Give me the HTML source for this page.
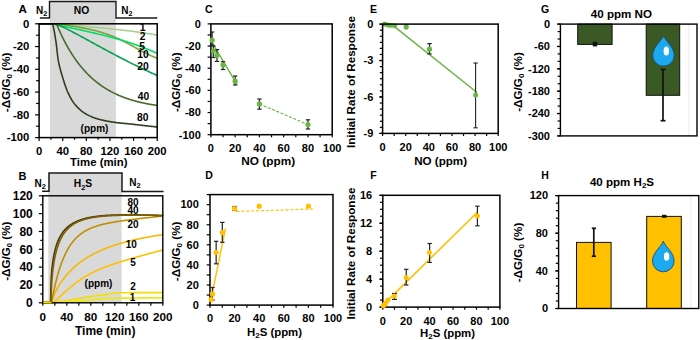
<!DOCTYPE html><html><head><meta charset="utf-8"><style>html,body{margin:0;padding:0;background:#fff;}svg{display:block;}text{font-family:"Liberation Sans",sans-serif;font-weight:bold;}</style></head><body>
<svg width="700" height="340" viewBox="0 0 700 340">
<rect width="700" height="340" fill="#fff"/>
<rect x="50.0" y="1.5" width="65.90" height="136.10" fill="#d9d9d9"/>
<path d="M39.9,18.0 H49.5 V1.5 H116.0 V18.0 H157.3" stroke="#1a1a1a" stroke-width="1.4" fill="none" stroke-linecap="butt" stroke-linejoin="miter"/>
<text x="22.75" y="13.10" font-size="11.6" text-anchor="middle" fill="#000" >A</text>
<text x="36" y="13.5" font-size="10" fill="#000">N<tspan font-size="7.2" dy="2.4">2</tspan></text>
<text x="81.50" y="13.70" font-size="10.3" text-anchor="middle" fill="#000" >NO</text>
<text x="121.2" y="13.7" font-size="10" fill="#000">N<tspan font-size="7.2" dy="2.4">2</tspan></text>
<path d="M39.50,23.90 L55.87,23.90 L55.87,23.90 L56.37,23.94 L56.87,23.99 L57.37,24.03 L57.87,24.07 L58.37,24.12 L58.87,24.16 L59.37,24.20 L59.87,24.24 L60.37,24.29 L60.87,24.33 L61.37,24.37 L61.87,24.42 L62.37,24.46 L62.87,24.50 L63.37,24.55 L63.87,24.59 L64.37,24.63 L64.87,24.68 L65.37,24.72 L65.87,24.76 L66.37,24.80 L66.87,24.85 L67.37,24.89 L67.87,24.93 L68.37,24.98 L68.87,25.02 L69.37,25.06 L69.87,25.11 L70.37,25.15 L70.87,25.19 L71.37,25.24 L71.87,25.28 L72.37,25.32 L72.87,25.37 L73.37,25.41 L73.87,25.45 L74.37,25.50 L74.87,25.54 L75.37,25.58 L75.87,25.63 L76.37,25.67 L76.87,25.71 L77.37,25.76 L77.87,25.80 L78.37,25.84 L78.87,25.89 L79.37,25.93 L79.87,25.98 L80.37,26.02 L80.87,26.06 L81.37,26.11 L81.87,26.15 L82.37,26.20 L82.87,26.24 L83.37,26.28 L83.87,26.33 L84.37,26.37 L84.87,26.42 L85.37,26.46 L85.87,26.50 L86.37,26.55 L86.87,26.59 L87.37,26.64 L87.87,26.68 L88.37,26.73 L88.87,26.77 L89.37,26.82 L89.87,26.86 L90.37,26.91 L90.87,26.95 L91.37,27.00 L91.87,27.04 L92.37,27.09 L92.87,27.13 L93.37,27.18 L93.87,27.22 L94.37,27.27 L94.87,27.32 L95.37,27.36 L95.87,27.41 L96.37,27.45 L96.87,27.50 L97.37,27.55 L97.87,27.59 L98.37,27.64 L98.87,27.69 L99.37,27.73 L99.87,27.78 L100.37,27.83 L100.87,27.88 L101.37,27.92 L101.87,27.97 L102.37,28.02 L102.87,28.07 L103.37,28.12 L103.87,28.16 L104.37,28.21 L104.87,28.26 L105.37,28.31 L105.87,28.36 L106.37,28.41 L106.87,28.46 L107.37,28.51 L107.87,28.56 L108.37,28.61 L108.87,28.66 L109.37,28.71 L109.87,28.76 L110.37,28.81 L110.87,28.86 L111.37,28.91 L111.87,28.96 L112.37,29.01 L112.87,29.07 L113.37,29.12 L113.87,29.17 L114.37,29.22 L114.87,29.28 L115.37,29.33 L115.87,29.38 L116.37,29.44 L116.87,29.49 L117.37,29.55 L117.87,29.60 L118.37,29.65 L118.87,29.71 L119.37,29.76 L119.87,29.82 L120.37,29.88 L120.87,29.93 L121.37,29.99 L121.87,30.05 L122.37,30.10 L122.87,30.16 L123.37,30.22 L123.87,30.28 L124.37,30.34 L124.87,30.39 L125.37,30.45 L125.87,30.51 L126.37,30.57 L126.87,30.63 L127.37,30.69 L127.87,30.75 L128.37,30.82 L128.87,30.88 L129.37,30.94 L129.87,31.00 L130.37,31.06 L130.87,31.13 L131.37,31.19 L131.87,31.26 L132.37,31.32 L132.87,31.39 L133.37,31.45 L133.87,31.52 L134.37,31.58 L134.87,31.65 L135.37,31.72 L135.87,31.78 L136.37,31.85 L136.87,31.92 L137.37,31.99 L137.87,32.06 L138.37,32.13 L138.87,32.20 L139.37,32.27 L139.87,32.34 L140.37,32.41 L140.87,32.49 L141.37,32.56 L141.87,32.63 L142.37,32.71 L142.87,32.78 L143.37,32.86 L143.87,32.93 L144.37,33.01 L144.87,33.09 L145.37,33.16 L145.87,33.24 L146.37,33.32 L146.87,33.40 L147.37,33.48 L147.87,33.56 L148.37,33.64 L148.87,33.72 L149.37,33.80 L149.87,33.89 L150.37,33.97 L150.87,34.05 L151.37,34.14 L151.87,34.22 L152.37,34.31 L152.87,34.40 L153.37,34.48 L153.87,34.57 L154.37,34.66 L154.87,34.75 L155.37,34.84 L155.87,34.93 L156.37,35.02 L156.87,35.11 L157.00,35.14" stroke="#a8d08c" stroke-width="1.6" fill="none" stroke-linejoin="round" stroke-linecap="round" />
<path d="M39.50,23.90 L59.00,23.90 L59.00,23.90 L59.50,23.98 L60.00,24.06 L60.50,24.15 L61.00,24.23 L61.50,24.31 L62.00,24.39 L62.50,24.47 L63.00,24.56 L63.50,24.64 L64.00,24.72 L64.50,24.80 L65.00,24.89 L65.50,24.97 L66.00,25.05 L66.50,25.13 L67.00,25.22 L67.50,25.30 L68.00,25.38 L68.50,25.46 L69.00,25.55 L69.50,25.63 L70.00,25.71 L70.50,25.80 L71.00,25.88 L71.50,25.96 L72.00,26.05 L72.50,26.13 L73.00,26.22 L73.50,26.30 L74.00,26.39 L74.50,26.47 L75.00,26.56 L75.50,26.64 L76.00,26.73 L76.50,26.82 L77.00,26.91 L77.50,26.99 L78.00,27.08 L78.50,27.17 L79.00,27.26 L79.50,27.35 L80.00,27.44 L80.50,27.53 L81.00,27.62 L81.50,27.72 L82.00,27.81 L82.50,27.90 L83.00,28.00 L83.50,28.09 L84.00,28.19 L84.50,28.29 L85.00,28.39 L85.50,28.48 L86.00,28.58 L86.50,28.69 L87.00,28.79 L87.50,28.89 L88.00,28.99 L88.50,29.10 L89.00,29.21 L89.50,29.31 L90.00,29.42 L90.50,29.53 L91.00,29.65 L91.50,29.76 L92.00,29.87 L92.50,29.99 L93.00,30.11 L93.50,30.23 L94.00,30.35 L94.50,30.47 L95.00,30.59 L95.50,30.72 L96.00,30.85 L96.50,30.97 L97.00,31.10 L97.50,31.24 L98.00,31.37 L98.50,31.51 L99.00,31.65 L99.50,31.79 L100.00,31.93 L100.50,32.07 L101.00,32.22 L101.50,32.37 L102.00,32.52 L102.50,32.67 L103.00,32.83 L103.50,32.98 L104.00,33.14 L104.50,33.31 L105.00,33.47 L105.50,33.64 L106.00,33.80 L106.50,33.98 L107.00,34.15 L107.50,34.33 L108.00,34.50 L108.50,34.68 L109.00,34.87 L109.50,35.05 L110.00,35.24 L110.50,35.43 L111.00,35.63 L111.50,35.82 L112.00,36.02 L112.50,36.22 L113.00,36.43 L113.50,36.63 L114.00,36.84 L114.50,37.05 L115.00,37.27 L115.50,37.48 L116.00,37.70 L116.50,37.92 L117.00,38.14 L117.50,38.37 L118.00,38.60 L118.50,38.83 L119.00,39.06 L119.50,39.30 L120.00,39.53 L120.50,39.77 L121.00,40.02 L121.50,40.26 L122.00,40.51 L122.50,40.75 L123.00,41.00 L123.50,41.26 L124.00,41.51 L124.50,41.77 L125.00,42.02 L125.50,42.28 L126.00,42.54 L126.50,42.81 L127.00,43.07 L127.50,43.33 L128.00,43.60 L128.50,43.87 L129.00,44.14 L129.50,44.41 L130.00,44.68 L130.50,44.95 L131.00,45.22 L131.50,45.50 L132.00,45.77 L132.50,46.04 L133.00,46.32 L133.50,46.59 L134.00,46.87 L134.50,47.15 L135.00,47.42 L135.50,47.70 L136.00,47.97 L136.50,48.25 L137.00,48.52 L137.50,48.80 L138.00,49.07 L138.50,49.34 L139.00,49.61 L139.50,49.89 L140.00,50.16 L140.50,50.43 L141.00,50.69 L141.50,50.96 L142.00,51.23 L142.50,51.49 L143.00,51.75 L143.50,52.01 L144.00,52.27 L144.50,52.53 L145.00,52.78 L145.50,53.04 L146.00,53.29 L146.50,53.53 L147.00,53.78 L147.50,54.03 L148.00,54.27 L148.50,54.51 L149.00,54.74 L149.50,54.98 L150.00,55.21 L150.50,55.44 L151.00,55.66 L151.50,55.89 L152.00,56.11 L152.50,56.33 L153.00,56.54 L153.50,56.75 L154.00,56.96 L154.50,57.17 L155.00,57.37 L155.50,57.57 L156.00,57.77 L156.50,57.96 L157.00,58.15" stroke="#7aa43c" stroke-width="1.6" fill="none" stroke-linejoin="round" stroke-linecap="round" />
<path d="M39.50,23.90 L52.56,23.90 L52.56,23.90 L53.06,24.01 L53.56,24.11 L54.06,24.22 L54.56,24.33 L55.06,24.44 L55.56,24.54 L56.06,24.65 L56.56,24.76 L57.06,24.87 L57.56,24.97 L58.06,25.08 L58.56,25.19 L59.06,25.30 L59.56,25.40 L60.06,25.51 L60.56,25.62 L61.06,25.73 L61.56,25.83 L62.06,25.94 L62.56,26.05 L63.06,26.16 L63.56,26.26 L64.06,26.37 L64.56,26.48 L65.06,26.59 L65.56,26.70 L66.06,26.80 L66.56,26.91 L67.06,27.02 L67.56,27.13 L68.06,27.23 L68.56,27.34 L69.06,27.45 L69.56,27.56 L70.06,27.67 L70.56,27.78 L71.06,27.88 L71.56,27.99 L72.06,28.10 L72.56,28.21 L73.06,28.32 L73.56,28.43 L74.06,28.53 L74.56,28.64 L75.06,28.75 L75.56,28.86 L76.06,28.97 L76.56,29.08 L77.06,29.19 L77.56,29.30 L78.06,29.41 L78.56,29.52 L79.06,29.63 L79.56,29.74 L80.06,29.85 L80.56,29.96 L81.06,30.07 L81.56,30.18 L82.06,30.29 L82.56,30.40 L83.06,30.51 L83.56,30.62 L84.06,30.73 L84.56,30.84 L85.06,30.96 L85.56,31.07 L86.06,31.18 L86.56,31.29 L87.06,31.41 L87.56,31.52 L88.06,31.63 L88.56,31.75 L89.06,31.86 L89.56,31.97 L90.06,32.09 L90.56,32.20 L91.06,32.32 L91.56,32.43 L92.06,32.55 L92.56,32.66 L93.06,32.78 L93.56,32.89 L94.06,33.01 L94.56,33.13 L95.06,33.24 L95.56,33.36 L96.06,33.48 L96.56,33.60 L97.06,33.72 L97.56,33.84 L98.06,33.96 L98.56,34.08 L99.06,34.20 L99.56,34.32 L100.06,34.44 L100.56,34.56 L101.06,34.68 L101.56,34.80 L102.06,34.93 L102.56,35.05 L103.06,35.17 L103.56,35.30 L104.06,35.42 L104.56,35.55 L105.06,35.67 L105.56,35.80 L106.06,35.93 L106.56,36.05 L107.06,36.18 L107.56,36.31 L108.06,36.44 L108.56,36.57 L109.06,36.70 L109.56,36.83 L110.06,36.96 L110.56,37.09 L111.06,37.22 L111.56,37.36 L112.06,37.49 L112.56,37.63 L113.06,37.76 L113.56,37.90 L114.06,38.03 L114.56,38.17 L115.06,38.31 L115.56,38.45 L116.06,38.59 L116.56,38.73 L117.06,38.87 L117.56,39.01 L118.06,39.15 L118.56,39.30 L119.06,39.44 L119.56,39.58 L120.06,39.73 L120.56,39.88 L121.06,40.02 L121.56,40.17 L122.06,40.32 L122.56,40.47 L123.06,40.62 L123.56,40.77 L124.06,40.92 L124.56,41.08 L125.06,41.23 L125.56,41.39 L126.06,41.54 L126.56,41.70 L127.06,41.86 L127.56,42.01 L128.06,42.17 L128.56,42.33 L129.06,42.50 L129.56,42.66 L130.06,42.82 L130.56,42.99 L131.06,43.15 L131.56,43.32 L132.06,43.49 L132.56,43.66 L133.06,43.82 L133.56,44.00 L134.06,44.17 L134.56,44.34 L135.06,44.51 L135.56,44.69 L136.06,44.86 L136.56,45.04 L137.06,45.22 L137.56,45.40 L138.06,45.58 L138.56,45.76 L139.06,45.94 L139.56,46.13 L140.06,46.31 L140.56,46.50 L141.06,46.69 L141.56,46.87 L142.06,47.06 L142.56,47.25 L143.06,47.45 L143.56,47.64 L144.06,47.83 L144.56,48.03 L145.06,48.23 L145.56,48.42 L146.06,48.62 L146.56,48.82 L147.06,49.02 L147.56,49.23 L148.06,49.43 L148.56,49.63 L149.06,49.84 L149.56,50.05 L150.06,50.26 L150.56,50.47 L151.06,50.68 L151.56,50.89 L152.06,51.10 L152.56,51.32 L153.06,51.53 L153.56,51.75 L154.06,51.97 L154.56,52.19 L155.06,52.41 L155.56,52.63 L156.06,52.85 L156.56,53.08 L157.00,53.28" stroke="#00dd66" stroke-width="1.6" fill="none" stroke-linejoin="round" stroke-linecap="round" />
<path d="M39.50,23.90 L54.54,23.90 L54.54,23.90 L55.04,23.98 L55.54,24.11 L56.04,24.27 L56.54,24.43 L57.04,24.61 L57.54,24.79 L58.04,24.99 L58.54,25.18 L59.04,25.39 L59.54,25.60 L60.04,25.81 L60.54,26.03 L61.04,26.25 L61.54,26.47 L62.04,26.70 L62.54,26.93 L63.04,27.16 L63.54,27.40 L64.04,27.64 L64.54,27.87 L65.04,28.12 L65.54,28.36 L66.04,28.61 L66.54,28.85 L67.04,29.10 L67.54,29.35 L68.04,29.60 L68.54,29.86 L69.04,30.11 L69.54,30.36 L70.04,30.62 L70.54,30.88 L71.04,31.14 L71.54,31.40 L72.04,31.66 L72.54,31.92 L73.04,32.18 L73.54,32.44 L74.04,32.71 L74.54,32.97 L75.04,33.24 L75.54,33.50 L76.04,33.77 L76.54,34.04 L77.04,34.30 L77.54,34.57 L78.04,34.84 L78.54,35.11 L79.04,35.38 L79.54,35.65 L80.04,35.92 L80.54,36.19 L81.04,36.46 L81.54,36.73 L82.04,37.00 L82.54,37.27 L83.04,37.55 L83.54,37.82 L84.04,38.09 L84.54,38.36 L85.04,38.64 L85.54,38.91 L86.04,39.18 L86.54,39.46 L87.04,39.73 L87.54,40.00 L88.04,40.28 L88.54,40.55 L89.04,40.82 L89.54,41.10 L90.04,41.37 L90.54,41.64 L91.04,41.92 L91.54,42.19 L92.04,42.47 L92.54,42.74 L93.04,43.01 L93.54,43.29 L94.04,43.56 L94.54,43.83 L95.04,44.11 L95.54,44.38 L96.04,44.65 L96.54,44.93 L97.04,45.20 L97.54,45.47 L98.04,45.74 L98.54,46.02 L99.04,46.29 L99.54,46.56 L100.04,46.83 L100.54,47.11 L101.04,47.38 L101.54,47.65 L102.04,47.92 L102.54,48.19 L103.04,48.46 L103.54,48.73 L104.04,49.00 L104.54,49.27 L105.04,49.54 L105.54,49.81 L106.04,50.08 L106.54,50.35 L107.04,50.62 L107.54,50.89 L108.04,51.16 L108.54,51.42 L109.04,51.69 L109.54,51.96 L110.04,52.23 L110.54,52.49 L111.04,52.76 L111.54,53.02 L112.04,53.29 L112.54,53.56 L113.04,53.82 L113.54,54.09 L114.04,54.35 L114.54,54.61 L115.04,54.88 L115.54,55.14 L116.04,55.40 L116.54,55.67 L117.04,55.93 L117.54,56.19 L118.04,56.45 L118.54,56.71 L119.04,56.97 L119.54,57.23 L120.04,57.49 L120.54,57.75 L121.04,58.01 L121.54,58.27 L122.04,58.53 L122.54,58.79 L123.04,59.05 L123.54,59.30 L124.04,59.56 L124.54,59.82 L125.04,60.07 L125.54,60.33 L126.04,60.58 L126.54,60.84 L127.04,61.09 L127.54,61.34 L128.04,61.60 L128.54,61.85 L129.04,62.10 L129.54,62.35 L130.04,62.61 L130.54,62.86 L131.04,63.11 L131.54,63.36 L132.04,63.61 L132.54,63.86 L133.04,64.10 L133.54,64.35 L134.04,64.60 L134.54,64.85 L135.04,65.09 L135.54,65.34 L136.04,65.58 L136.54,65.83 L137.04,66.07 L137.54,66.32 L138.04,66.56 L138.54,66.81 L139.04,67.05 L139.54,67.29 L140.04,67.53 L140.54,67.77 L141.04,68.01 L141.54,68.25 L142.04,68.49 L142.54,68.73 L143.04,68.97 L143.54,69.21 L144.04,69.45 L144.54,69.69 L145.04,69.92 L145.54,70.16 L146.04,70.39 L146.54,70.63 L147.04,70.86 L147.54,71.10 L148.04,71.33 L148.54,71.56 L149.04,71.80 L149.54,72.03 L150.04,72.26 L150.54,72.49 L151.04,72.72 L151.54,72.95 L152.04,73.18 L152.54,73.41 L153.04,73.64 L153.54,73.86 L154.04,74.09 L154.54,74.32 L155.04,74.54 L155.54,74.77 L156.04,74.99 L156.54,75.22 L157.00,75.42" stroke="#00a24e" stroke-width="1.6" fill="none" stroke-linejoin="round" stroke-linecap="round" />
<path d="M39.50,23.90 L56.56,23.90 L56.56,23.90 L57.06,25.15 L57.56,26.37 L58.06,27.55 L58.56,28.72 L59.06,29.86 L59.56,30.98 L60.06,32.09 L60.56,33.18 L61.06,34.26 L61.56,35.31 L62.06,36.35 L62.56,37.38 L63.06,38.39 L63.56,39.39 L64.06,40.37 L64.56,41.34 L65.06,42.29 L65.56,43.23 L66.06,44.16 L66.56,45.08 L67.06,45.98 L67.56,46.87 L68.06,47.74 L68.56,48.61 L69.06,49.46 L69.56,50.30 L70.06,51.13 L70.56,51.94 L71.06,52.75 L71.56,53.54 L72.06,54.33 L72.56,55.10 L73.06,55.86 L73.56,56.61 L74.06,57.35 L74.56,58.09 L75.06,58.81 L75.56,59.52 L76.06,60.22 L76.56,60.91 L77.06,61.59 L77.56,62.27 L78.06,62.93 L78.56,63.59 L79.06,64.23 L79.56,64.87 L80.06,65.50 L80.56,66.12 L81.06,66.73 L81.56,67.33 L82.06,67.93 L82.56,68.51 L83.06,69.09 L83.56,69.66 L84.06,70.23 L84.56,70.78 L85.06,71.33 L85.56,71.87 L86.06,72.40 L86.56,72.93 L87.06,73.45 L87.56,73.96 L88.06,74.47 L88.56,74.97 L89.06,75.46 L89.56,75.94 L90.06,76.42 L90.56,76.89 L91.06,77.36 L91.56,77.82 L92.06,78.27 L92.56,78.72 L93.06,79.16 L93.56,79.59 L94.06,80.02 L94.56,80.44 L95.06,80.86 L95.56,81.27 L96.06,81.68 L96.56,82.08 L97.06,82.47 L97.56,82.86 L98.06,83.25 L98.56,83.63 L99.06,84.00 L99.56,84.37 L100.06,84.73 L100.56,85.09 L101.06,85.45 L101.56,85.80 L102.06,86.14 L102.56,86.48 L103.06,86.82 L103.56,87.15 L104.06,87.47 L104.56,87.80 L105.06,88.11 L105.56,88.43 L106.06,88.74 L106.56,89.04 L107.06,89.34 L107.56,89.64 L108.06,89.93 L108.56,90.22 L109.06,90.50 L109.56,90.78 L110.06,91.06 L110.56,91.33 L111.06,91.60 L111.56,91.87 L112.06,92.13 L112.56,92.39 L113.06,92.65 L113.56,92.90 L114.06,93.15 L114.56,93.39 L115.06,93.63 L115.56,93.87 L116.06,94.10 L116.56,94.34 L117.06,94.56 L117.56,94.79 L118.06,95.01 L118.56,95.23 L119.06,95.45 L119.56,95.66 L120.06,95.87 L120.56,96.08 L121.06,96.28 L121.56,96.48 L122.06,96.68 L122.56,96.88 L123.06,97.07 L123.56,97.26 L124.06,97.45 L124.56,97.63 L125.06,97.82 L125.56,98.00 L126.06,98.18 L126.56,98.35 L127.06,98.52 L127.56,98.69 L128.06,98.86 L128.56,99.03 L129.06,99.19 L129.56,99.35 L130.06,99.51 L130.56,99.67 L131.06,99.82 L131.56,99.98 L132.06,100.13 L132.56,100.27 L133.06,100.42 L133.56,100.56 L134.06,100.70 L134.56,100.84 L135.06,100.98 L135.56,101.12 L136.06,101.25 L136.56,101.38 L137.06,101.52 L137.56,101.64 L138.06,101.77 L138.56,101.89 L139.06,102.02 L139.56,102.14 L140.06,102.26 L140.56,102.38 L141.06,102.49 L141.56,102.61 L142.06,102.72 L142.56,102.83 L143.06,102.94 L143.56,103.05 L144.06,103.15 L144.56,103.26 L145.06,103.36 L145.56,103.46 L146.06,103.56 L146.56,103.66 L147.06,103.76 L147.56,103.86 L148.06,103.95 L148.56,104.04 L149.06,104.14 L149.56,104.23 L150.06,104.32 L150.56,104.40 L151.06,104.49 L151.56,104.58 L152.06,104.66 L152.56,104.74 L153.06,104.82 L153.56,104.90 L154.06,104.98 L154.56,105.06 L155.06,105.14 L155.56,105.21 L156.06,105.29 L156.56,105.36 L157.00,105.42" stroke="#4a6a2c" stroke-width="1.6" fill="none" stroke-linejoin="round" stroke-linecap="round" />
<path d="M39.50,23.90 L52.60,23.90 L52.60,23.90 L53.10,25.85 L53.60,28.10 L54.10,30.62 L54.60,33.36 L55.10,36.31 L55.60,39.42 L56.10,42.68 L56.60,46.71 L57.10,51.28 L57.60,55.74 L58.10,59.42 L58.60,62.11 L59.10,64.51 L59.60,66.67 L60.10,68.64 L60.60,70.47 L61.10,72.20 L61.60,73.87 L62.10,75.53 L62.60,77.21 L63.10,78.86 L63.60,80.49 L64.10,82.08 L64.60,83.63 L65.10,85.13 L65.60,86.58 L66.10,87.97 L66.60,89.29 L67.10,90.55 L67.60,91.73 L68.10,92.83 L68.60,93.90 L69.10,94.93 L69.60,95.94 L70.10,96.91 L70.60,97.84 L71.10,98.74 L71.60,99.60 L72.10,100.43 L72.60,101.21 L73.10,101.96 L73.60,102.66 L74.10,103.32 L74.60,103.94 L75.10,104.55 L75.60,105.13 L76.10,105.70 L76.60,106.26 L77.10,106.80 L77.60,107.33 L78.10,107.84 L78.60,108.34 L79.10,108.82 L79.60,109.29 L80.10,109.75 L80.60,110.18 L81.10,110.61 L81.60,111.02 L82.10,111.41 L82.60,111.79 L83.10,112.15 L83.60,112.50 L84.10,112.84 L84.60,113.16 L85.10,113.46 L85.60,113.76 L86.10,114.04 L86.60,114.33 L87.10,114.60 L87.60,114.87 L88.10,115.13 L88.60,115.39 L89.10,115.63 L89.60,115.88 L90.10,116.11 L90.60,116.34 L91.10,116.56 L91.60,116.78 L92.10,116.99 L92.60,117.19 L93.10,117.39 L93.60,117.58 L94.10,117.76 L94.60,117.94 L95.10,118.11 L95.60,118.27 L96.10,118.43 L96.60,118.58 L97.10,118.73 L97.60,118.87 L98.10,119.01 L98.60,119.15 L99.10,119.28 L99.60,119.41 L100.10,119.54 L100.60,119.67 L101.10,119.79 L101.60,119.91 L102.10,120.03 L102.60,120.15 L103.10,120.27 L103.60,120.38 L104.10,120.49 L104.60,120.60 L105.10,120.70 L105.60,120.81 L106.10,120.91 L106.60,121.01 L107.10,121.11 L107.60,121.20 L108.10,121.29 L108.60,121.39 L109.10,121.48 L109.60,121.56 L110.10,121.65 L110.60,121.73 L111.10,121.82 L111.60,121.90 L112.10,121.98 L112.60,122.05 L113.10,122.13 L113.60,122.20 L114.10,122.27 L114.60,122.34 L115.10,122.41 L115.60,122.48 L116.10,122.55 L116.60,122.61 L117.10,122.67 L117.60,122.73 L118.10,122.79 L118.60,122.84 L119.10,122.90 L119.60,122.95 L120.10,123.00 L120.60,123.05 L121.10,123.10 L121.60,123.15 L122.10,123.20 L122.60,123.25 L123.10,123.30 L123.60,123.34 L124.10,123.39 L124.60,123.44 L125.10,123.48 L125.60,123.53 L126.10,123.58 L126.60,123.63 L127.10,123.67 L127.60,123.72 L128.10,123.77 L128.60,123.82 L129.10,123.87 L129.60,123.93 L130.10,123.98 L130.60,124.03 L131.10,124.09 L131.60,124.14 L132.10,124.20 L132.60,124.25 L133.10,124.31 L133.60,124.37 L134.10,124.42 L134.60,124.48 L135.10,124.54 L135.60,124.59 L136.10,124.65 L136.60,124.71 L137.10,124.77 L137.60,124.82 L138.10,124.88 L138.60,124.94 L139.10,125.00 L139.60,125.05 L140.10,125.11 L140.60,125.17 L141.10,125.23 L141.60,125.28 L142.10,125.34 L142.60,125.40 L143.10,125.45 L143.60,125.51 L144.10,125.57 L144.60,125.62 L145.10,125.68 L145.60,125.73 L146.10,125.79 L146.60,125.85 L147.10,125.90 L147.60,125.96 L148.10,126.01 L148.60,126.07 L149.10,126.12 L149.60,126.18 L150.10,126.23 L150.60,126.29 L151.10,126.34 L151.60,126.40 L152.10,126.45 L152.60,126.51 L153.10,126.56 L153.60,126.62 L154.10,126.67 L154.60,126.73 L155.10,126.78 L155.60,126.84 L156.10,126.89 L156.60,126.95" stroke="#2e3e20" stroke-width="1.6" fill="none" stroke-linejoin="round" stroke-linecap="round" />
<rect x="39.10" y="23.80" width="118.10" height="113.80" fill="none" stroke="#000" stroke-width="1.5"/>
<line x1="35.10" y1="23.80" x2="39.10" y2="23.80" stroke="#000" stroke-width="1.2" />
<line x1="35.10" y1="46.56" x2="39.10" y2="46.56" stroke="#000" stroke-width="1.2" />
<line x1="35.10" y1="69.32" x2="39.10" y2="69.32" stroke="#000" stroke-width="1.2" />
<line x1="35.10" y1="92.08" x2="39.10" y2="92.08" stroke="#000" stroke-width="1.2" />
<line x1="35.10" y1="114.84" x2="39.10" y2="114.84" stroke="#000" stroke-width="1.2" />
<line x1="35.10" y1="137.60" x2="39.10" y2="137.60" stroke="#000" stroke-width="1.2" />
<line x1="36.10" y1="35.18" x2="39.10" y2="35.18" stroke="#000" stroke-width="1.2" />
<line x1="36.10" y1="57.94" x2="39.10" y2="57.94" stroke="#000" stroke-width="1.2" />
<line x1="36.10" y1="80.70" x2="39.10" y2="80.70" stroke="#000" stroke-width="1.2" />
<line x1="36.10" y1="103.46" x2="39.10" y2="103.46" stroke="#000" stroke-width="1.2" />
<line x1="36.10" y1="126.22" x2="39.10" y2="126.22" stroke="#000" stroke-width="1.2" />
<line x1="39.10" y1="137.60" x2="39.10" y2="140.90" stroke="#000" stroke-width="1.2" />
<line x1="62.72" y1="137.60" x2="62.72" y2="140.90" stroke="#000" stroke-width="1.2" />
<line x1="86.34" y1="137.60" x2="86.34" y2="140.90" stroke="#000" stroke-width="1.2" />
<line x1="109.96" y1="137.60" x2="109.96" y2="140.90" stroke="#000" stroke-width="1.2" />
<line x1="133.58" y1="137.60" x2="133.58" y2="140.90" stroke="#000" stroke-width="1.2" />
<line x1="157.20" y1="137.60" x2="157.20" y2="140.90" stroke="#000" stroke-width="1.2" />
<line x1="50.91" y1="137.60" x2="50.91" y2="139.80" stroke="#000" stroke-width="1.2" />
<line x1="74.53" y1="137.60" x2="74.53" y2="139.80" stroke="#000" stroke-width="1.2" />
<line x1="98.15" y1="137.60" x2="98.15" y2="139.80" stroke="#000" stroke-width="1.2" />
<line x1="121.77" y1="137.60" x2="121.77" y2="139.80" stroke="#000" stroke-width="1.2" />
<line x1="145.39" y1="137.60" x2="145.39" y2="139.80" stroke="#000" stroke-width="1.2" />
<text x="29.30" y="27.60" font-size="11.3" text-anchor="end" fill="#000" >0</text>
<text x="29.30" y="50.36" font-size="11.3" text-anchor="end" fill="#000" >-20</text>
<text x="29.30" y="73.12" font-size="11.3" text-anchor="end" fill="#000" >-40</text>
<text x="29.30" y="95.88" font-size="11.3" text-anchor="end" fill="#000" >-60</text>
<text x="29.30" y="118.64" font-size="11.3" text-anchor="end" fill="#000" >-80</text>
<text x="29.30" y="141.40" font-size="11.3" text-anchor="end" fill="#000" >-100</text>
<text x="39.10" y="155.00" font-size="11.3" text-anchor="middle" fill="#000" >0</text>
<text x="62.72" y="155.00" font-size="11.3" text-anchor="middle" fill="#000" >40</text>
<text x="86.34" y="155.00" font-size="11.3" text-anchor="middle" fill="#000" >80</text>
<text x="109.96" y="155.00" font-size="11.3" text-anchor="middle" fill="#000" >120</text>
<text x="133.58" y="155.00" font-size="11.3" text-anchor="middle" fill="#000" >160</text>
<text x="157.20" y="155.00" font-size="11.3" text-anchor="middle" fill="#000" >200</text>
<text x="98.80" y="165.60" font-size="11.4" text-anchor="middle" fill="#000" >Time (min)</text>
<text transform="translate(9.9,82.35) rotate(-90)" x="0" y="0" font-size="11.7" text-anchor="middle" fill="#000">-ΔG/G<tspan font-size="8" dy="2">0</tspan><tspan dy="-2"> (%)</tspan></text>
<text x="142.60" y="31.30" font-size="10.3" text-anchor="middle" fill="#000" >1</text>
<text x="142.60" y="39.60" font-size="10.3" text-anchor="middle" fill="#000" >2</text>
<text x="142.20" y="49.60" font-size="10.3" text-anchor="middle" fill="#000" >5</text>
<text x="143.10" y="58.10" font-size="10.3" text-anchor="middle" fill="#000" >10</text>
<text x="143.10" y="69.60" font-size="10.3" text-anchor="middle" fill="#000" >20</text>
<text x="143.50" y="100.00" font-size="10.3" text-anchor="middle" fill="#000" >40</text>
<text x="142.70" y="121.20" font-size="10.3" text-anchor="middle" fill="#000" >80</text>
<text x="94.50" y="132.40" font-size="10" text-anchor="middle" fill="#000" >(ppm)</text>
<rect x="48.3" y="172.9" width="73.30" height="129.90" fill="#d9d9d9"/>
<path d="M42.1,191.3 H49.0 V172.9 H122.0 V191.6 H163.6" stroke="#1a1a1a" stroke-width="1.5" fill="none" stroke-linecap="butt" stroke-linejoin="miter"/>
<text x="22.50" y="180.00" font-size="11" text-anchor="middle" fill="#000" >B</text>
<text x="34.6" y="186.6" font-size="10" fill="#000">N<tspan font-size="7.4" dy="2.4">2</tspan></text>
<text x="73.8" y="187.4" font-size="10.3" fill="#000">H<tspan font-size="7.4" dy="2.4">2</tspan><tspan dy="-2.4">S</tspan></text>
<text x="129.3" y="185.8" font-size="10" fill="#000">N<tspan font-size="7.4" dy="2.4">2</tspan></text>
<path d="M43,302.6 L60,302.5 C80,301.5 95,299.8 105,298.6 C112,297.9 121.2,297.8 162.5,297.9" stroke="#eeea10" stroke-width="1.6" fill="none" stroke-linejoin="round" stroke-linecap="round" />
<path d="M43.00,302.60 L49.00,302.60 L49.00,302.60 L49.50,302.58 L50.00,302.55 L50.50,302.52 L51.00,302.49 L51.50,302.46 L52.00,302.42 L52.50,302.39 L53.00,302.35 L53.50,302.31 L54.00,302.27 L54.50,302.23 L55.00,302.19 L55.50,302.14 L56.00,302.10 L56.50,302.05 L57.00,302.00 L57.50,301.96 L58.00,301.91 L58.50,301.86 L59.00,301.81 L59.50,301.75 L60.00,301.70 L60.50,301.65 L61.00,301.59 L61.50,301.53 L62.00,301.46 L62.50,301.39 L63.00,301.33 L63.50,301.25 L64.00,301.18 L64.50,301.10 L65.00,301.02 L65.50,300.94 L66.00,300.86 L66.50,300.78 L67.00,300.70 L67.50,300.61 L68.00,300.52 L68.50,300.44 L69.00,300.35 L69.50,300.26 L70.00,300.17 L70.50,300.08 L71.00,299.99 L71.50,299.90 L72.00,299.82 L72.50,299.73 L73.00,299.64 L73.50,299.55 L74.00,299.47 L74.50,299.38 L75.00,299.30 L75.50,299.21 L76.00,299.12 L76.50,299.03 L77.00,298.94 L77.50,298.85 L78.00,298.76 L78.50,298.67 L79.00,298.57 L79.50,298.48 L80.00,298.38 L80.50,298.29 L81.00,298.20 L81.50,298.10 L82.00,298.01 L82.50,297.91 L83.00,297.82 L83.50,297.72 L84.00,297.63 L84.50,297.54 L85.00,297.45 L85.50,297.36 L86.00,297.27 L86.50,297.18 L87.00,297.09 L87.50,297.01 L88.00,296.92 L88.50,296.84 L89.00,296.76 L89.50,296.68 L90.00,296.60 L90.50,296.52 L91.00,296.45 L91.50,296.37 L92.00,296.30 L92.50,296.23 L93.00,296.16 L93.50,296.09 L94.00,296.02 L94.50,295.95 L95.00,295.88 L95.50,295.81 L96.00,295.74 L96.50,295.67 L97.00,295.61 L97.50,295.54 L98.00,295.48 L98.50,295.41 L99.00,295.35 L99.50,295.28 L100.00,295.22 L100.50,295.16 L101.00,295.09 L101.50,295.03 L102.00,294.97 L102.50,294.91 L103.00,294.84 L103.50,294.78 L104.00,294.72 L104.50,294.66 L105.00,294.60 L105.50,294.54 L106.00,294.47 L106.50,294.41 L107.00,294.34 L107.50,294.27 L108.00,294.20 L108.50,294.13 L109.00,294.06 L109.50,293.99 L110.00,293.92 L110.50,293.85 L111.00,293.78 L111.50,293.71 L112.00,293.64 L112.50,293.57 L113.00,293.51 L113.50,293.44 L114.00,293.38 L114.50,293.32 L115.00,293.26 L115.50,293.20 L116.00,293.15 L116.50,293.10 L117.00,293.05 L117.50,293.00 L118.00,292.96 L118.50,292.92 L119.00,292.89 L119.50,292.86 L120.00,292.84 L120.50,292.82 L121.00,292.80 L121.50,292.79 L122.00,292.78 L122.50,292.77 L123.00,292.77 L123.50,292.76 L124.00,292.75 L124.50,292.74 L125.00,292.73 L125.50,292.72 L126.00,292.71 L126.50,292.71 L127.00,292.70 L127.50,292.69 L128.00,292.69 L128.50,292.68 L129.00,292.67 L129.50,292.67 L130.00,292.66 L130.50,292.65 L131.00,292.65 L131.50,292.64 L132.00,292.64 L132.50,292.63 L133.00,292.63 L133.50,292.63 L134.00,292.62 L134.50,292.62 L135.00,292.62 L135.50,292.61 L136.00,292.61 L136.50,292.61 L137.00,292.61 L137.50,292.60 L138.00,292.60 L138.50,292.60 L139.00,292.60 L139.50,292.60 L140.00,292.60 L140.50,292.60 L141.00,292.60 L141.50,292.60 L142.00,292.60 L142.50,292.60 L143.00,292.60 L143.50,292.60 L144.00,292.60 L144.50,292.60 L145.00,292.60 L145.50,292.60 L146.00,292.60 L146.50,292.60 L147.00,292.60 L147.50,292.60 L148.00,292.60 L148.50,292.60 L149.00,292.60 L149.50,292.60 L150.00,292.60 L150.50,292.60 L151.00,292.60 L151.50,292.60 L152.00,292.60 L152.50,292.60 L153.00,292.60 L153.50,292.60 L154.00,292.60 L154.50,292.60 L155.00,292.60 L155.50,292.60 L156.00,292.60 L156.50,292.60 L157.00,292.60 L157.50,292.60 L158.00,292.60 L158.50,292.60 L159.00,292.60 L159.50,292.60 L160.00,292.60 L160.50,292.60 L161.00,292.60 L161.50,292.60 L162.00,292.60 L162.50,292.60" stroke="#f4e000" stroke-width="1.6" fill="none" stroke-linejoin="round" stroke-linecap="round" />
<path d="M43.00,302.60 L52.80,302.60 L52.80,302.60 L53.30,302.33 L53.80,302.00 L54.30,301.64 L54.80,301.26 L55.30,300.86 L55.80,300.44 L56.30,300.02 L56.80,299.58 L57.30,299.14 L57.80,298.69 L58.30,298.23 L58.80,297.77 L59.30,297.31 L59.80,296.85 L60.30,296.38 L60.80,295.92 L61.30,295.45 L61.80,294.98 L62.30,294.51 L62.80,294.05 L63.30,293.58 L63.80,293.12 L64.30,292.65 L64.80,292.19 L65.30,291.74 L65.80,291.28 L66.30,290.83 L66.80,290.38 L67.30,289.93 L67.80,289.49 L68.30,289.05 L68.80,288.61 L69.30,288.18 L69.80,287.75 L70.30,287.33 L70.80,286.90 L71.30,286.49 L71.80,286.07 L72.30,285.67 L72.80,285.26 L73.30,284.86 L73.80,284.47 L74.30,284.07 L74.80,283.69 L75.30,283.30 L75.80,282.92 L76.30,282.55 L76.80,282.18 L77.30,281.81 L77.80,281.45 L78.30,281.10 L78.80,280.74 L79.30,280.39 L79.80,280.05 L80.30,279.71 L80.80,279.37 L81.30,279.04 L81.80,278.71 L82.30,278.39 L82.80,278.07 L83.30,277.75 L83.80,277.44 L84.30,277.13 L84.80,276.83 L85.30,276.53 L85.80,276.23 L86.30,275.94 L86.80,275.65 L87.30,275.36 L87.80,275.08 L88.30,274.80 L88.80,274.53 L89.30,274.26 L89.80,273.99 L90.30,273.72 L90.80,273.46 L91.30,273.20 L91.80,272.95 L92.30,272.69 L92.80,272.44 L93.30,272.20 L93.80,271.95 L94.30,271.71 L94.80,271.47 L95.30,271.24 L95.80,271.00 L96.30,270.77 L96.80,270.54 L97.30,270.32 L97.80,270.10 L98.30,269.87 L98.80,269.66 L99.30,269.44 L99.80,269.23 L100.30,269.02 L100.80,268.81 L101.30,268.60 L101.80,268.39 L102.30,268.19 L102.80,267.99 L103.30,267.79 L103.80,267.59 L104.30,267.40 L104.80,267.20 L105.30,267.01 L105.80,266.82 L106.30,266.63 L106.80,266.44 L107.30,266.26 L107.80,266.07 L108.30,265.89 L108.80,265.71 L109.30,265.53 L109.80,265.35 L110.30,265.17 L110.80,265.00 L111.30,264.82 L111.80,264.65 L112.30,264.48 L112.80,264.31 L113.30,264.14 L113.80,263.97 L114.30,263.80 L114.80,263.63 L115.30,263.47 L115.80,263.31 L116.30,263.14 L116.80,262.98 L117.30,262.82 L117.80,262.66 L118.30,262.50 L118.80,262.34 L119.30,262.18 L119.80,262.02 L120.30,261.87 L120.80,261.71 L121.30,261.56 L121.80,261.40 L122.30,261.25 L122.80,261.10 L123.30,260.94 L123.80,260.79 L124.30,260.64 L124.80,260.49 L125.30,260.34 L125.80,260.19 L126.30,260.04 L126.80,259.89 L127.30,259.75 L127.80,259.60 L128.30,259.45 L128.80,259.31 L129.30,259.16 L129.80,259.02 L130.30,258.87 L130.80,258.73 L131.30,258.58 L131.80,258.44 L132.30,258.30 L132.80,258.15 L133.30,258.01 L133.80,257.87 L134.30,257.73 L134.80,257.59 L135.30,257.44 L135.80,257.30 L136.30,257.16 L136.80,257.02 L137.30,256.88 L137.80,256.74 L138.30,256.60 L138.80,256.46 L139.30,256.32 L139.80,256.19 L140.30,256.05 L140.80,255.91 L141.30,255.77 L141.80,255.63 L142.30,255.49 L142.80,255.36 L143.30,255.22 L143.80,255.08 L144.30,254.95 L144.80,254.81 L145.30,254.67 L145.80,254.54 L146.30,254.40 L146.80,254.26 L147.30,254.13 L147.80,253.99 L148.30,253.85 L148.80,253.72 L149.30,253.58 L149.80,253.45 L150.30,253.31 L150.80,253.18 L151.30,253.04 L151.80,252.91 L152.30,252.77 L152.80,252.64 L153.30,252.50 L153.80,252.37 L154.30,252.23 L154.80,252.10 L155.30,251.96 L155.80,251.83 L156.30,251.70 L156.80,251.56 L157.30,251.43 L157.80,251.29 L158.30,251.16 L158.80,251.03 L159.30,250.89 L159.80,250.76 L160.30,250.62 L160.80,250.49 L161.30,250.36 L161.80,250.22 L162.30,250.09 L162.50,250.04" stroke="#ffc000" stroke-width="1.6" fill="none" stroke-linejoin="round" stroke-linecap="round" />
<path d="M43.00,302.60 L51.66,302.60 L51.66,302.60 L52.16,300.46 L52.66,298.87 L53.16,297.46 L53.66,296.16 L54.16,294.94 L54.66,293.79 L55.16,292.69 L55.66,291.65 L56.16,290.64 L56.66,289.67 L57.16,288.73 L57.66,287.82 L58.16,286.94 L58.66,286.09 L59.16,285.25 L59.66,284.45 L60.16,283.66 L60.66,282.89 L61.16,282.14 L61.66,281.41 L62.16,280.70 L62.66,280.00 L63.16,279.32 L63.66,278.65 L64.16,278.00 L64.66,277.36 L65.16,276.74 L65.66,276.12 L66.16,275.52 L66.66,274.93 L67.16,274.35 L67.66,273.78 L68.16,273.22 L68.66,272.68 L69.16,272.14 L69.66,271.61 L70.16,271.09 L70.66,270.58 L71.16,270.08 L71.66,269.59 L72.16,269.11 L72.66,268.63 L73.16,268.16 L73.66,267.70 L74.16,267.25 L74.66,266.80 L75.16,266.36 L75.66,265.93 L76.16,265.51 L76.66,265.09 L77.16,264.68 L77.66,264.27 L78.16,263.87 L78.66,263.48 L79.16,263.09 L79.66,262.70 L80.16,262.33 L80.66,261.96 L81.16,261.59 L81.66,261.23 L82.16,260.87 L82.66,260.52 L83.16,260.18 L83.66,259.83 L84.16,259.50 L84.66,259.17 L85.16,258.84 L85.66,258.52 L86.16,258.20 L86.66,257.88 L87.16,257.57 L87.66,257.27 L88.16,256.96 L88.66,256.67 L89.16,256.37 L89.66,256.08 L90.16,255.79 L90.66,255.51 L91.16,255.23 L91.66,254.96 L92.16,254.68 L92.66,254.41 L93.16,254.15 L93.66,253.88 L94.16,253.62 L94.66,253.37 L95.16,253.12 L95.66,252.87 L96.16,252.62 L96.66,252.37 L97.16,252.13 L97.66,251.89 L98.16,251.66 L98.66,251.43 L99.16,251.20 L99.66,250.97 L100.16,250.74 L100.66,250.52 L101.16,250.30 L101.66,250.08 L102.16,249.87 L102.66,249.66 L103.16,249.45 L103.66,249.24 L104.16,249.03 L104.66,248.83 L105.16,248.63 L105.66,248.43 L106.16,248.23 L106.66,248.04 L107.16,247.85 L107.66,247.66 L108.16,247.47 L108.66,247.28 L109.16,247.10 L109.66,246.92 L110.16,246.74 L110.66,246.56 L111.16,246.38 L111.66,246.21 L112.16,246.03 L112.66,245.86 L113.16,245.69 L113.66,245.53 L114.16,245.36 L114.66,245.20 L115.16,245.03 L115.66,244.87 L116.16,244.71 L116.66,244.55 L117.16,244.40 L117.66,244.24 L118.16,244.09 L118.66,243.94 L119.16,243.79 L119.66,243.64 L120.16,243.49 L120.66,243.35 L121.16,243.20 L121.66,243.06 L122.16,242.92 L122.66,242.78 L123.16,242.64 L123.66,242.50 L124.16,242.36 L124.66,242.23 L125.16,242.09 L125.66,241.96 L126.16,241.83 L126.66,241.70 L127.16,241.57 L127.66,241.44 L128.16,241.31 L128.66,241.19 L129.16,241.06 L129.66,240.94 L130.16,240.82 L130.66,240.69 L131.16,240.57 L131.66,240.45 L132.16,240.34 L132.66,240.22 L133.16,240.10 L133.66,239.99 L134.16,239.87 L134.66,239.76 L135.16,239.65 L135.66,239.54 L136.16,239.43 L136.66,239.32 L137.16,239.21 L137.66,239.10 L138.16,238.99 L138.66,238.89 L139.16,238.78 L139.66,238.68 L140.16,238.57 L140.66,238.47 L141.16,238.37 L141.66,238.27 L142.16,238.17 L142.66,238.07 L143.16,237.97 L143.66,237.87 L144.16,237.77 L144.66,237.68 L145.16,237.58 L145.66,237.49 L146.16,237.39 L146.66,237.30 L147.16,237.21 L147.66,237.12 L148.16,237.02 L148.66,236.93 L149.16,236.84 L149.66,236.75 L150.16,236.67 L150.66,236.58 L151.16,236.49 L151.66,236.40 L152.16,236.32 L152.66,236.23 L153.16,236.15 L153.66,236.06 L154.16,235.98 L154.66,235.89 L155.16,235.81 L155.66,235.73 L156.16,235.65 L156.66,235.57 L157.16,235.49 L157.66,235.41 L158.16,235.33 L158.66,235.25 L159.16,235.17 L159.66,235.09 L160.16,235.02 L160.66,234.94 L161.16,234.86 L161.66,234.79 L162.16,234.71 L162.50,234.66" stroke="#f8b800" stroke-width="1.6" fill="none" stroke-linejoin="round" stroke-linecap="round" />
<path d="M43.00,302.60 L51.68,302.60 L51.68,302.60 L52.18,299.66 L52.68,296.91 L53.18,294.30 L53.68,291.80 L54.18,289.41 L54.68,287.11 L55.18,284.90 L55.68,282.77 L56.18,280.73 L56.68,278.76 L57.18,276.86 L57.68,275.04 L58.18,273.28 L58.68,271.58 L59.18,269.95 L59.68,268.37 L60.18,266.85 L60.68,265.38 L61.18,263.97 L61.68,262.60 L62.18,261.29 L62.68,260.02 L63.18,258.79 L63.68,257.60 L64.18,256.46 L64.68,255.35 L65.18,254.29 L65.68,253.26 L66.18,252.26 L66.68,251.30 L67.18,250.37 L67.68,249.47 L68.18,248.60 L68.68,247.76 L69.18,246.95 L69.68,246.16 L70.18,245.40 L70.68,244.67 L71.18,243.96 L71.68,243.27 L72.18,242.61 L72.68,241.97 L73.18,241.34 L73.68,240.74 L74.18,240.16 L74.68,239.59 L75.18,239.05 L75.68,238.52 L76.18,238.01 L76.68,237.51 L77.18,237.03 L77.68,236.56 L78.18,236.11 L78.68,235.67 L79.18,235.25 L79.68,234.84 L80.18,234.44 L80.68,234.05 L81.18,233.68 L81.68,233.31 L82.18,232.96 L82.68,232.62 L83.18,232.28 L83.68,231.96 L84.18,231.65 L84.68,231.34 L85.18,231.05 L85.68,230.76 L86.18,230.48 L86.68,230.21 L87.18,229.94 L87.68,229.69 L88.18,229.44 L88.68,229.20 L89.18,228.96 L89.68,228.73 L90.18,228.51 L90.68,228.29 L91.18,228.07 L91.68,227.87 L92.18,227.67 L92.68,227.47 L93.18,227.28 L93.68,227.09 L94.18,226.91 L94.68,226.73 L95.18,226.56 L95.68,226.39 L96.18,226.22 L96.68,226.06 L97.18,225.90 L97.68,225.75 L98.18,225.60 L98.68,225.45 L99.18,225.31 L99.68,225.17 L100.18,225.03 L100.68,224.89 L101.18,224.76 L101.68,224.63 L102.18,224.51 L102.68,224.38 L103.18,224.26 L103.68,224.14 L104.18,224.02 L104.68,223.91 L105.18,223.79 L105.68,223.68 L106.18,223.57 L106.68,223.47 L107.18,223.36 L107.68,223.26 L108.18,223.16 L108.68,223.06 L109.18,222.96 L109.68,222.86 L110.18,222.77 L110.68,222.67 L111.18,222.58 L111.68,222.49 L112.18,222.40 L112.68,222.31 L113.18,222.22 L113.68,222.14 L114.18,222.05 L114.68,221.97 L115.18,221.88 L115.68,221.80 L116.18,221.72 L116.68,221.64 L117.18,221.56 L117.68,221.48 L118.18,221.41 L118.68,221.33 L119.18,221.25 L119.68,221.18 L120.18,221.10 L120.68,221.03 L121.18,220.96 L121.68,220.88 L122.18,220.81 L122.68,220.74 L123.18,220.67 L123.68,220.60 L124.18,220.53 L124.68,220.46 L125.18,220.40 L125.68,220.33 L126.18,220.26 L126.68,220.20 L127.18,220.13 L127.68,220.06 L128.18,220.00 L128.68,219.93 L129.18,219.87 L129.68,219.81 L130.18,219.74 L130.68,219.68 L131.18,219.62 L131.68,219.55 L132.18,219.49 L132.68,219.43 L133.18,219.37 L133.68,219.31 L134.18,219.24 L134.68,219.18 L135.18,219.12 L135.68,219.06 L136.18,219.00 L136.68,218.94 L137.18,218.88 L137.68,218.82 L138.18,218.77 L138.68,218.71 L139.18,218.65 L139.68,218.59 L140.18,218.53 L140.68,218.47 L141.18,218.41 L141.68,218.36 L142.18,218.30 L142.68,218.24 L143.18,218.18 L143.68,218.13 L144.18,218.07 L144.68,218.01 L145.18,217.96 L145.68,217.90 L146.18,217.84 L146.68,217.79 L147.18,217.73 L147.68,217.67 L148.18,217.62 L148.68,217.56 L149.18,217.51 L149.68,217.45 L150.18,217.39 L150.68,217.34 L151.18,217.28 L151.68,217.23 L152.18,217.17 L152.68,217.12 L153.18,217.06 L153.68,217.01 L154.18,216.95 L154.68,216.90 L155.18,216.84 L155.68,216.79 L156.18,216.73 L156.68,216.68 L157.18,216.62 L157.68,216.57 L158.18,216.51 L158.68,216.46 L159.18,216.41 L159.68,216.35 L160.18,216.30 L160.68,216.24 L161.18,216.19 L161.68,216.13 L162.18,216.08 L162.50,216.05" stroke="#bf8f00" stroke-width="1.6" fill="none" stroke-linejoin="round" stroke-linecap="round" />
<path d="M43.00,302.60 L50.55,302.60 L50.55,302.60 L51.05,281.17 L51.55,273.37 L52.05,267.89 L52.55,263.60 L53.05,260.05 L53.55,257.03 L54.05,254.41 L54.55,252.08 L55.05,250.01 L55.55,248.13 L56.05,246.42 L56.55,244.86 L57.05,243.42 L57.55,242.08 L58.05,240.85 L58.55,239.69 L59.05,238.62 L59.55,237.61 L60.05,236.66 L60.55,235.77 L61.05,234.92 L61.55,234.13 L62.05,233.37 L62.55,232.66 L63.05,231.98 L63.55,231.33 L64.05,230.72 L64.55,230.13 L65.05,229.57 L65.55,229.04 L66.05,228.53 L66.55,228.04 L67.05,227.57 L67.55,227.13 L68.05,226.70 L68.55,226.29 L69.05,225.89 L69.55,225.51 L70.05,225.14 L70.55,224.79 L71.05,224.45 L71.55,224.13 L72.05,223.82 L72.55,223.51 L73.05,223.22 L73.55,222.94 L74.05,222.67 L74.55,222.41 L75.05,222.15 L75.55,221.91 L76.05,221.67 L76.55,221.45 L77.05,221.23 L77.55,221.01 L78.05,220.81 L78.55,220.61 L79.05,220.41 L79.55,220.23 L80.05,220.05 L80.55,219.87 L81.05,219.70 L81.55,219.54 L82.05,219.38 L82.55,219.22 L83.05,219.08 L83.55,218.93 L84.05,218.79 L84.55,218.65 L85.05,218.52 L85.55,218.39 L86.05,218.27 L86.55,218.15 L87.05,218.03 L87.55,217.92 L88.05,217.81 L88.55,217.70 L89.05,217.60 L89.55,217.50 L90.05,217.40 L90.55,217.31 L91.05,217.22 L91.55,217.13 L92.05,217.04 L92.55,216.96 L93.05,216.88 L93.55,216.80 L94.05,216.72 L94.55,216.65 L95.05,216.58 L95.55,216.51 L96.05,216.44 L96.55,216.38 L97.05,216.31 L97.55,216.25 L98.05,216.19 L98.55,216.13 L99.05,216.08 L99.55,216.02 L100.05,215.97 L100.55,215.92 L101.05,215.87 L101.55,215.82 L102.05,215.78 L102.55,215.73 L103.05,215.69 L103.55,215.65 L104.05,215.61 L104.55,215.57 L105.05,215.53 L105.55,215.49 L106.05,215.46 L106.55,215.42 L107.05,215.39 L107.55,215.36 L108.05,215.33 L108.55,215.30 L109.05,215.27 L109.55,215.24 L110.05,215.22 L110.55,215.19 L111.05,215.17 L111.55,215.15 L112.05,215.12 L112.55,215.10 L113.05,215.08 L113.55,215.06 L114.05,215.04 L114.55,215.03 L115.05,215.01 L115.55,214.99 L116.05,214.98 L116.55,214.96 L117.05,214.95 L117.55,214.94 L118.05,214.92 L118.55,214.91 L119.05,214.90 L119.55,214.89 L120.05,214.88 L120.55,214.87 L121.05,214.86 L121.55,214.86 L122.05,214.85 L122.55,214.84 L123.05,214.84 L123.55,214.83 L124.05,214.83 L124.55,214.82 L125.05,214.82 L125.55,214.82 L126.05,214.81 L126.55,214.81 L127.05,214.81 L127.55,214.81 L128.05,214.81 L128.55,214.81 L129.05,214.81 L129.55,214.81 L130.05,214.81 L130.55,214.81 L131.05,214.82 L131.55,214.82 L132.05,214.82 L132.55,214.83 L133.05,214.83 L133.55,214.83 L134.05,214.84 L134.55,214.84 L135.05,214.85 L135.55,214.85 L136.05,214.86 L136.55,214.87 L137.05,214.87 L137.55,214.88 L138.05,214.89 L138.55,214.90 L139.05,214.91 L139.55,214.91 L140.05,214.92 L140.55,214.93 L141.05,214.94 L141.55,214.95 L142.05,214.96 L142.55,214.97 L143.05,214.98 L143.55,214.99 L144.05,215.00 L144.55,215.02 L145.05,215.03 L145.55,215.04 L146.05,215.05 L146.55,215.07 L147.05,215.08 L147.55,215.09 L148.05,215.10 L148.55,215.12 L149.05,215.13 L149.55,215.15 L150.05,215.16 L150.55,215.17 L151.05,215.19 L151.55,215.20 L152.05,215.22 L152.55,215.23 L153.05,215.25 L153.55,215.27 L154.05,215.28 L154.55,215.30 L155.05,215.31 L155.55,215.33 L156.05,215.35 L156.55,215.36 L157.05,215.38 L157.55,215.40 L158.05,215.42 L158.55,215.43 L159.05,215.45 L159.55,215.47 L160.05,215.49 L160.55,215.50 L161.05,215.52 L161.55,215.54 L162.05,215.56 L162.50,215.58" stroke="#4a3a08" stroke-width="1.6" fill="none" stroke-linejoin="round" stroke-linecap="round" />
<path d="M43.00,302.60 L50.97,302.60 L50.97,302.60 L51.47,286.48 L51.97,279.13 L52.47,273.67 L52.97,269.25 L53.47,265.52 L53.97,262.29 L54.47,259.44 L54.97,256.89 L55.47,254.59 L55.97,252.50 L56.47,250.59 L56.97,248.82 L57.47,247.20 L57.97,245.69 L58.47,244.28 L58.97,242.97 L59.47,241.74 L59.97,240.59 L60.47,239.50 L60.97,238.48 L61.47,237.52 L61.97,236.61 L62.47,235.74 L62.97,234.93 L63.47,234.15 L63.97,233.41 L64.47,232.71 L64.97,232.04 L65.47,231.41 L65.97,230.80 L66.47,230.22 L66.97,229.66 L67.47,229.13 L67.97,228.63 L68.47,228.14 L68.97,227.68 L69.47,227.23 L69.97,226.80 L70.47,226.39 L70.97,226.00 L71.47,225.62 L71.97,225.26 L72.47,224.91 L72.97,224.57 L73.47,224.25 L73.97,223.93 L74.47,223.63 L74.97,223.35 L75.47,223.07 L75.97,222.80 L76.47,222.54 L76.97,222.29 L77.47,222.05 L77.97,221.81 L78.47,221.59 L78.97,221.37 L79.47,221.16 L79.97,220.96 L80.47,220.76 L80.97,220.57 L81.47,220.39 L81.97,220.22 L82.47,220.04 L82.97,219.88 L83.47,219.72 L83.97,219.56 L84.47,219.41 L84.97,219.27 L85.47,219.13 L85.97,218.99 L86.47,218.86 L86.97,218.73 L87.47,218.61 L87.97,218.49 L88.47,218.38 L88.97,218.26 L89.47,218.15 L89.97,218.05 L90.47,217.95 L90.97,217.85 L91.47,217.75 L91.97,217.66 L92.47,217.57 L92.97,217.48 L93.47,217.40 L93.97,217.32 L94.47,217.24 L94.97,217.16 L95.47,217.09 L95.97,217.02 L96.47,216.95 L96.97,216.88 L97.47,216.81 L97.97,216.75 L98.47,216.69 L98.97,216.63 L99.47,216.57 L99.97,216.51 L100.47,216.46 L100.97,216.41 L101.47,216.36 L101.97,216.31 L102.47,216.26 L102.97,216.21 L103.47,216.17 L103.97,216.12 L104.47,216.08 L104.97,216.04 L105.47,216.00 L105.97,215.96 L106.47,215.93 L106.97,215.89 L107.47,215.86 L107.97,215.82 L108.47,215.79 L108.97,215.76 L109.47,215.73 L109.97,215.70 L110.47,215.67 L110.97,215.65 L111.47,215.62 L111.97,215.60 L112.47,215.57 L112.97,215.55 L113.47,215.53 L113.97,215.51 L114.47,215.48 L114.97,215.46 L115.47,215.45 L115.97,215.43 L116.47,215.41 L116.97,215.39 L117.47,215.38 L117.97,215.36 L118.47,215.35 L118.97,215.33 L119.47,215.32 L119.97,215.31 L120.47,215.29 L120.97,215.28 L121.47,215.27 L121.97,215.26 L122.47,215.25 L122.97,215.24 L123.47,215.23 L123.97,215.22 L124.47,215.22 L124.97,215.21 L125.47,215.20 L125.97,215.19 L126.47,215.19 L126.97,215.18 L127.47,215.18 L127.97,215.17 L128.47,215.17 L128.97,215.17 L129.47,215.16 L129.97,215.16 L130.47,215.16 L130.97,215.15 L131.47,215.15 L131.97,215.15 L132.47,215.15 L132.97,215.15 L133.47,215.15 L133.97,215.15 L134.47,215.15 L134.97,215.15 L135.47,215.15 L135.97,215.15 L136.47,215.15 L136.97,215.15 L137.47,215.15 L137.97,215.16 L138.47,215.16 L138.97,215.16 L139.47,215.17 L139.97,215.17 L140.47,215.17 L140.97,215.18 L141.47,215.18 L141.97,215.18 L142.47,215.19 L142.97,215.19 L143.47,215.20 L143.97,215.20 L144.47,215.21 L144.97,215.21 L145.47,215.22 L145.97,215.23 L146.47,215.23 L146.97,215.24 L147.47,215.24 L147.97,215.25 L148.47,215.26 L148.97,215.26 L149.47,215.27 L149.97,215.28 L150.47,215.29 L150.97,215.29 L151.47,215.30 L151.97,215.31 L152.47,215.32 L152.97,215.33 L153.47,215.34 L153.97,215.34 L154.47,215.35 L154.97,215.36 L155.47,215.37 L155.97,215.38 L156.47,215.39 L156.97,215.40 L157.47,215.41 L157.97,215.42 L158.47,215.43 L158.97,215.44 L159.47,215.45 L159.97,215.46 L160.47,215.47 L160.97,215.48 L161.47,215.49 L161.97,215.50 L162.47,215.51 L162.50,215.51" stroke="#7f6000" stroke-width="1.6" fill="none" stroke-linejoin="round" stroke-linecap="round" />
<rect x="42.80" y="195.80" width="120.00" height="107.00" fill="none" stroke="#000" stroke-width="1.4"/>
<line x1="43.20" y1="302.60" x2="51.50" y2="302.60" stroke="#f2e400" stroke-width="1.7" />
<line x1="38.80" y1="302.80" x2="42.80" y2="302.80" stroke="#000" stroke-width="1.2" />
<line x1="38.80" y1="284.97" x2="42.80" y2="284.97" stroke="#000" stroke-width="1.2" />
<line x1="38.80" y1="267.13" x2="42.80" y2="267.13" stroke="#000" stroke-width="1.2" />
<line x1="38.80" y1="249.30" x2="42.80" y2="249.30" stroke="#000" stroke-width="1.2" />
<line x1="38.80" y1="231.47" x2="42.80" y2="231.47" stroke="#000" stroke-width="1.2" />
<line x1="38.80" y1="213.63" x2="42.80" y2="213.63" stroke="#000" stroke-width="1.2" />
<line x1="38.80" y1="195.80" x2="42.80" y2="195.80" stroke="#000" stroke-width="1.2" />
<line x1="40.30" y1="293.88" x2="42.80" y2="293.88" stroke="#000" stroke-width="1.2" />
<line x1="40.30" y1="276.05" x2="42.80" y2="276.05" stroke="#000" stroke-width="1.2" />
<line x1="40.30" y1="258.22" x2="42.80" y2="258.22" stroke="#000" stroke-width="1.2" />
<line x1="40.30" y1="240.38" x2="42.80" y2="240.38" stroke="#000" stroke-width="1.2" />
<line x1="40.30" y1="222.55" x2="42.80" y2="222.55" stroke="#000" stroke-width="1.2" />
<line x1="40.30" y1="204.72" x2="42.80" y2="204.72" stroke="#000" stroke-width="1.2" />
<line x1="42.80" y1="302.80" x2="42.80" y2="305.80" stroke="#000" stroke-width="1.2" />
<line x1="54.80" y1="302.80" x2="54.80" y2="305.80" stroke="#000" stroke-width="1.2" />
<line x1="66.80" y1="302.80" x2="66.80" y2="305.80" stroke="#000" stroke-width="1.2" />
<line x1="78.80" y1="302.80" x2="78.80" y2="305.80" stroke="#000" stroke-width="1.2" />
<line x1="90.80" y1="302.80" x2="90.80" y2="305.80" stroke="#000" stroke-width="1.2" />
<line x1="102.80" y1="302.80" x2="102.80" y2="305.80" stroke="#000" stroke-width="1.2" />
<line x1="114.80" y1="302.80" x2="114.80" y2="305.80" stroke="#000" stroke-width="1.2" />
<line x1="126.80" y1="302.80" x2="126.80" y2="305.80" stroke="#000" stroke-width="1.2" />
<line x1="138.80" y1="302.80" x2="138.80" y2="305.80" stroke="#000" stroke-width="1.2" />
<line x1="150.80" y1="302.80" x2="150.80" y2="305.80" stroke="#000" stroke-width="1.2" />
<line x1="162.80" y1="302.80" x2="162.80" y2="305.80" stroke="#000" stroke-width="1.2" />
<text x="32.80" y="307.00" font-size="12" text-anchor="end" fill="#000" >0</text>
<text x="32.80" y="289.17" font-size="12" text-anchor="end" fill="#000" >20</text>
<text x="32.80" y="271.33" font-size="12" text-anchor="end" fill="#000" >40</text>
<text x="32.80" y="253.50" font-size="12" text-anchor="end" fill="#000" >60</text>
<text x="32.80" y="235.67" font-size="12" text-anchor="end" fill="#000" >80</text>
<text x="32.80" y="217.83" font-size="12" text-anchor="end" fill="#000" >100</text>
<text x="32.80" y="200.00" font-size="12" text-anchor="end" fill="#000" >120</text>
<text x="42.80" y="320.90" font-size="11.7" text-anchor="middle" fill="#000" >0</text>
<text x="66.80" y="320.90" font-size="11.7" text-anchor="middle" fill="#000" >40</text>
<text x="90.80" y="320.90" font-size="11.7" text-anchor="middle" fill="#000" >80</text>
<text x="114.80" y="320.90" font-size="11.7" text-anchor="middle" fill="#000" >120</text>
<text x="138.80" y="320.90" font-size="11.7" text-anchor="middle" fill="#000" >160</text>
<text x="162.80" y="320.90" font-size="11.7" text-anchor="middle" fill="#000" >200</text>
<text x="105.20" y="334.60" font-size="12" text-anchor="middle" fill="#000" >Time (min)</text>
<text transform="translate(9.6,251.2) rotate(-90)" x="0" y="0" font-size="11.7" text-anchor="middle" fill="#000">-ΔG/G<tspan font-size="7.5" dy="2">0</tspan><tspan dy="-2"> (%)</tspan></text>
<text x="133.00" y="205.50" font-size="10" text-anchor="middle" fill="#000" >80</text>
<text x="133.00" y="214.00" font-size="10" text-anchor="middle" fill="#000" >40</text>
<text x="133.00" y="228.20" font-size="10" text-anchor="middle" fill="#000" >20</text>
<text x="131.30" y="247.60" font-size="10" text-anchor="middle" fill="#000" >10</text>
<text x="133.00" y="266.20" font-size="10" text-anchor="middle" fill="#000" >5</text>
<text x="133.00" y="290.20" font-size="10" text-anchor="middle" fill="#000" >2</text>
<text x="132.50" y="301.00" font-size="10" text-anchor="middle" fill="#000" >1</text>
<text x="98.50" y="287.00" font-size="10" text-anchor="middle" fill="#000" >(ppm)</text>
<text x="208.75" y="13.00" font-size="10.5" text-anchor="middle" fill="#000" >C</text>
<rect x="210.90" y="23.90" width="121.30" height="110.80" fill="none" stroke="#000" stroke-width="1.5"/>
<line x1="207.60" y1="23.90" x2="210.90" y2="23.90" stroke="#000" stroke-width="1.2" />
<line x1="207.60" y1="34.98" x2="210.90" y2="34.98" stroke="#000" stroke-width="1.2" />
<line x1="207.60" y1="46.06" x2="210.90" y2="46.06" stroke="#000" stroke-width="1.2" />
<line x1="207.60" y1="57.14" x2="210.90" y2="57.14" stroke="#000" stroke-width="1.2" />
<line x1="207.60" y1="68.22" x2="210.90" y2="68.22" stroke="#000" stroke-width="1.2" />
<line x1="207.60" y1="79.30" x2="210.90" y2="79.30" stroke="#000" stroke-width="1.2" />
<line x1="207.60" y1="90.38" x2="210.90" y2="90.38" stroke="#000" stroke-width="1.2" />
<line x1="207.60" y1="101.46" x2="210.90" y2="101.46" stroke="#000" stroke-width="1.2" />
<line x1="207.60" y1="112.54" x2="210.90" y2="112.54" stroke="#000" stroke-width="1.2" />
<line x1="207.60" y1="123.62" x2="210.90" y2="123.62" stroke="#000" stroke-width="1.2" />
<line x1="207.60" y1="134.70" x2="210.90" y2="134.70" stroke="#000" stroke-width="1.2" />
<line x1="210.90" y1="134.70" x2="210.90" y2="137.30" stroke="#000" stroke-width="1.2" />
<line x1="223.03" y1="134.70" x2="223.03" y2="137.30" stroke="#000" stroke-width="1.2" />
<line x1="235.16" y1="134.70" x2="235.16" y2="137.30" stroke="#000" stroke-width="1.2" />
<line x1="247.29" y1="134.70" x2="247.29" y2="137.30" stroke="#000" stroke-width="1.2" />
<line x1="259.42" y1="134.70" x2="259.42" y2="137.30" stroke="#000" stroke-width="1.2" />
<line x1="271.55" y1="134.70" x2="271.55" y2="137.30" stroke="#000" stroke-width="1.2" />
<line x1="283.68" y1="134.70" x2="283.68" y2="137.30" stroke="#000" stroke-width="1.2" />
<line x1="295.81" y1="134.70" x2="295.81" y2="137.30" stroke="#000" stroke-width="1.2" />
<line x1="307.94" y1="134.70" x2="307.94" y2="137.30" stroke="#000" stroke-width="1.2" />
<line x1="320.07" y1="134.70" x2="320.07" y2="137.30" stroke="#000" stroke-width="1.2" />
<line x1="332.20" y1="134.70" x2="332.20" y2="137.30" stroke="#000" stroke-width="1.2" />
<text x="200.80" y="27.70" font-size="11" text-anchor="end" fill="#000" >0</text>
<text x="200.80" y="49.86" font-size="11" text-anchor="end" fill="#000" >-20</text>
<text x="200.80" y="72.02" font-size="11" text-anchor="end" fill="#000" >-40</text>
<text x="200.80" y="94.18" font-size="11" text-anchor="end" fill="#000" >-60</text>
<text x="200.80" y="116.34" font-size="11" text-anchor="end" fill="#000" >-80</text>
<text x="200.80" y="138.50" font-size="11" text-anchor="end" fill="#000" >-100</text>
<text x="210.90" y="151.60" font-size="11" text-anchor="middle" fill="#000" >0</text>
<text x="235.16" y="151.60" font-size="11" text-anchor="middle" fill="#000" >20</text>
<text x="259.42" y="151.60" font-size="11" text-anchor="middle" fill="#000" >40</text>
<text x="283.68" y="151.60" font-size="11" text-anchor="middle" fill="#000" >60</text>
<text x="307.94" y="151.60" font-size="11" text-anchor="middle" fill="#000" >80</text>
<text x="332.20" y="151.60" font-size="11" text-anchor="middle" fill="#000" >100</text>
<text x="268.20" y="164.60" font-size="11.8" text-anchor="middle" fill="#000" >NO (ppm)</text>
<text transform="translate(180.10,82.25) rotate(-90)" x="0" y="0" font-size="11.7" text-anchor="middle" fill="#000">-ΔG/G<tspan font-size="8" dy="2">0</tspan><tspan dy="-2"> (%)</tspan></text>
<line x1="211.26" y1="41.07" x2="236.98" y2="84.29" stroke="#6ab544" stroke-width="1.4" />
<line x1="259.42" y1="103.90" x2="307.94" y2="124.62" stroke="#6ab544" stroke-width="1.1" stroke-dasharray="3,1.6"/>
<line x1="212.11" y1="32.00" x2="212.11" y2="45.20" stroke="#222" stroke-width="1.2" />
<line x1="209.91" y1="32.00" x2="214.31" y2="32.00" stroke="#222" stroke-width="1.2" />
<line x1="209.91" y1="45.20" x2="214.31" y2="45.20" stroke="#222" stroke-width="1.2" />
<line x1="213.33" y1="46.00" x2="213.33" y2="57.50" stroke="#222" stroke-width="1.2" />
<line x1="211.13" y1="46.00" x2="215.53" y2="46.00" stroke="#222" stroke-width="1.2" />
<line x1="211.13" y1="57.50" x2="215.53" y2="57.50" stroke="#222" stroke-width="1.2" />
<line x1="216.97" y1="49.60" x2="216.97" y2="61.40" stroke="#222" stroke-width="1.2" />
<line x1="214.77" y1="49.60" x2="219.16" y2="49.60" stroke="#222" stroke-width="1.2" />
<line x1="214.77" y1="61.40" x2="219.16" y2="61.40" stroke="#222" stroke-width="1.2" />
<line x1="223.03" y1="61.70" x2="223.03" y2="69.50" stroke="#222" stroke-width="1.2" />
<line x1="220.83" y1="61.70" x2="225.23" y2="61.70" stroke="#222" stroke-width="1.2" />
<line x1="220.83" y1="69.50" x2="225.23" y2="69.50" stroke="#222" stroke-width="1.2" />
<line x1="235.16" y1="76.00" x2="235.16" y2="85.00" stroke="#222" stroke-width="1.2" />
<line x1="232.96" y1="76.00" x2="237.36" y2="76.00" stroke="#222" stroke-width="1.2" />
<line x1="232.96" y1="85.00" x2="237.36" y2="85.00" stroke="#222" stroke-width="1.2" />
<line x1="259.42" y1="99.00" x2="259.42" y2="109.20" stroke="#222" stroke-width="1.2" />
<line x1="257.22" y1="99.00" x2="261.62" y2="99.00" stroke="#222" stroke-width="1.2" />
<line x1="257.22" y1="109.20" x2="261.62" y2="109.20" stroke="#222" stroke-width="1.2" />
<line x1="307.94" y1="119.80" x2="307.94" y2="129.00" stroke="#222" stroke-width="1.2" />
<line x1="305.74" y1="119.80" x2="310.14" y2="119.80" stroke="#222" stroke-width="1.2" />
<line x1="305.74" y1="129.00" x2="310.14" y2="129.00" stroke="#222" stroke-width="1.2" />
<circle cx="212.11" cy="40.19" r="2.6" fill="#6ab544"/>
<circle cx="213.33" cy="51.05" r="2.6" fill="#6ab544"/>
<circle cx="216.97" cy="55.26" r="2.6" fill="#6ab544"/>
<circle cx="223.03" cy="64.90" r="2.6" fill="#6ab544"/>
<circle cx="235.16" cy="81.18" r="2.6" fill="#6ab544"/>
<circle cx="259.42" cy="103.90" r="2.6" fill="#6ab544"/>
<circle cx="307.94" cy="124.62" r="2.6" fill="#6ab544"/>
<text x="209.00" y="178.90" font-size="10.5" text-anchor="middle" fill="#000" >D</text>
<rect x="210.00" y="194.60" width="123.00" height="110.50" fill="none" stroke="#000" stroke-width="1.5"/>
<line x1="206.70" y1="305.10" x2="210.00" y2="305.10" stroke="#000" stroke-width="1.2" />
<line x1="206.70" y1="295.05" x2="210.00" y2="295.05" stroke="#000" stroke-width="1.2" />
<line x1="206.70" y1="285.01" x2="210.00" y2="285.01" stroke="#000" stroke-width="1.2" />
<line x1="206.70" y1="274.96" x2="210.00" y2="274.96" stroke="#000" stroke-width="1.2" />
<line x1="206.70" y1="264.92" x2="210.00" y2="264.92" stroke="#000" stroke-width="1.2" />
<line x1="206.70" y1="254.87" x2="210.00" y2="254.87" stroke="#000" stroke-width="1.2" />
<line x1="206.70" y1="244.83" x2="210.00" y2="244.83" stroke="#000" stroke-width="1.2" />
<line x1="206.70" y1="234.78" x2="210.00" y2="234.78" stroke="#000" stroke-width="1.2" />
<line x1="206.70" y1="224.74" x2="210.00" y2="224.74" stroke="#000" stroke-width="1.2" />
<line x1="206.70" y1="214.69" x2="210.00" y2="214.69" stroke="#000" stroke-width="1.2" />
<line x1="206.70" y1="204.65" x2="210.00" y2="204.65" stroke="#000" stroke-width="1.2" />
<line x1="206.70" y1="194.60" x2="210.00" y2="194.60" stroke="#000" stroke-width="1.2" />
<line x1="210.00" y1="305.10" x2="210.00" y2="307.70" stroke="#000" stroke-width="1.2" />
<line x1="222.30" y1="305.10" x2="222.30" y2="307.70" stroke="#000" stroke-width="1.2" />
<line x1="234.60" y1="305.10" x2="234.60" y2="307.70" stroke="#000" stroke-width="1.2" />
<line x1="246.90" y1="305.10" x2="246.90" y2="307.70" stroke="#000" stroke-width="1.2" />
<line x1="259.20" y1="305.10" x2="259.20" y2="307.70" stroke="#000" stroke-width="1.2" />
<line x1="271.50" y1="305.10" x2="271.50" y2="307.70" stroke="#000" stroke-width="1.2" />
<line x1="283.80" y1="305.10" x2="283.80" y2="307.70" stroke="#000" stroke-width="1.2" />
<line x1="296.10" y1="305.10" x2="296.10" y2="307.70" stroke="#000" stroke-width="1.2" />
<line x1="308.40" y1="305.10" x2="308.40" y2="307.70" stroke="#000" stroke-width="1.2" />
<line x1="320.70" y1="305.10" x2="320.70" y2="307.70" stroke="#000" stroke-width="1.2" />
<line x1="333.00" y1="305.10" x2="333.00" y2="307.70" stroke="#000" stroke-width="1.2" />
<text x="198.80" y="308.90" font-size="11" text-anchor="end" fill="#000" >0</text>
<text x="198.80" y="288.81" font-size="11" text-anchor="end" fill="#000" >20</text>
<text x="198.80" y="268.72" font-size="11" text-anchor="end" fill="#000" >40</text>
<text x="198.80" y="248.63" font-size="11" text-anchor="end" fill="#000" >60</text>
<text x="198.80" y="228.54" font-size="11" text-anchor="end" fill="#000" >80</text>
<text x="198.80" y="208.45" font-size="11" text-anchor="end" fill="#000" >100</text>
<text x="210.00" y="321.80" font-size="11" text-anchor="middle" fill="#000" >0</text>
<text x="234.60" y="321.80" font-size="11" text-anchor="middle" fill="#000" >20</text>
<text x="259.20" y="321.80" font-size="11" text-anchor="middle" fill="#000" >40</text>
<text x="283.80" y="321.80" font-size="11" text-anchor="middle" fill="#000" >60</text>
<text x="308.40" y="321.80" font-size="11" text-anchor="middle" fill="#000" >80</text>
<text x="333.00" y="321.80" font-size="11" text-anchor="middle" fill="#000" >100</text>
<text x="274.5" y="336" font-size="11.4" text-anchor="middle" fill="#000">H<tspan font-size="8" dy="2">2</tspan><tspan dy="-2">S (ppm)</tspan></text>
<text transform="translate(180.10,251.35) rotate(-90)" x="0" y="0" font-size="11.7" text-anchor="middle" fill="#000">-ΔG/G<tspan font-size="8" dy="2">0</tspan><tspan dy="-2"> (%)</tspan></text>
<line x1="210.60" y1="301.50" x2="225.50" y2="228.50" stroke="#ffc000" stroke-width="1.4" />
<line x1="236.50" y1="211.50" x2="313.80" y2="209.00" stroke="#ffc000" stroke-width="1.15" stroke-dasharray="3,1.9"/>
<line x1="212.46" y1="287.50" x2="212.46" y2="300.00" stroke="#222" stroke-width="1.2" />
<line x1="210.26" y1="287.50" x2="214.66" y2="287.50" stroke="#222" stroke-width="1.2" />
<line x1="210.26" y1="300.00" x2="214.66" y2="300.00" stroke="#222" stroke-width="1.2" />
<line x1="216.15" y1="241.30" x2="216.15" y2="263.80" stroke="#222" stroke-width="1.2" />
<line x1="213.95" y1="241.30" x2="218.35" y2="241.30" stroke="#222" stroke-width="1.2" />
<line x1="213.95" y1="263.80" x2="218.35" y2="263.80" stroke="#222" stroke-width="1.2" />
<line x1="222.30" y1="222.40" x2="222.30" y2="242.30" stroke="#222" stroke-width="1.2" />
<line x1="220.10" y1="222.40" x2="224.50" y2="222.40" stroke="#222" stroke-width="1.2" />
<line x1="220.10" y1="242.30" x2="224.50" y2="242.30" stroke="#222" stroke-width="1.2" />
<line x1="234.60" y1="206.50" x2="234.60" y2="210.50" stroke="#222" stroke-width="1.2" />
<line x1="232.40" y1="206.50" x2="236.80" y2="206.50" stroke="#222" stroke-width="1.2" />
<line x1="232.40" y1="210.50" x2="236.80" y2="210.50" stroke="#222" stroke-width="1.2" />
<circle cx="211.23" cy="299.50" r="2.6" fill="#ffc000"/>
<circle cx="212.46" cy="293.90" r="2.6" fill="#ffc000"/>
<circle cx="216.15" cy="252.50" r="2.6" fill="#ffc000"/>
<circle cx="222.30" cy="232.50" r="2.6" fill="#ffc000"/>
<circle cx="234.60" cy="208.60" r="2.6" fill="#ffc000"/>
<circle cx="259.20" cy="206.20" r="2.6" fill="#ffc000"/>
<circle cx="308.40" cy="206.20" r="2.6" fill="#ffc000"/>
<text x="373.50" y="13.00" font-size="10.5" text-anchor="middle" fill="#000" >E</text>
<line x1="379.80" y1="24.10" x2="382.60" y2="24.10" stroke="#000" stroke-width="1.2" />
<line x1="379.80" y1="30.17" x2="382.60" y2="30.17" stroke="#000" stroke-width="1.2" />
<line x1="379.80" y1="36.24" x2="382.60" y2="36.24" stroke="#000" stroke-width="1.2" />
<line x1="379.80" y1="42.32" x2="382.60" y2="42.32" stroke="#000" stroke-width="1.2" />
<line x1="379.80" y1="48.39" x2="382.60" y2="48.39" stroke="#000" stroke-width="1.2" />
<line x1="379.80" y1="54.46" x2="382.60" y2="54.46" stroke="#000" stroke-width="1.2" />
<line x1="379.80" y1="60.53" x2="382.60" y2="60.53" stroke="#000" stroke-width="1.2" />
<line x1="379.80" y1="66.61" x2="382.60" y2="66.61" stroke="#000" stroke-width="1.2" />
<line x1="379.80" y1="72.68" x2="382.60" y2="72.68" stroke="#000" stroke-width="1.2" />
<line x1="379.80" y1="78.75" x2="382.60" y2="78.75" stroke="#000" stroke-width="1.2" />
<line x1="379.80" y1="84.82" x2="382.60" y2="84.82" stroke="#000" stroke-width="1.2" />
<line x1="379.80" y1="90.89" x2="382.60" y2="90.89" stroke="#000" stroke-width="1.2" />
<line x1="379.80" y1="96.97" x2="382.60" y2="96.97" stroke="#000" stroke-width="1.2" />
<line x1="379.80" y1="103.04" x2="382.60" y2="103.04" stroke="#000" stroke-width="1.2" />
<line x1="379.80" y1="109.11" x2="382.60" y2="109.11" stroke="#000" stroke-width="1.2" />
<line x1="379.80" y1="115.18" x2="382.60" y2="115.18" stroke="#000" stroke-width="1.2" />
<line x1="379.80" y1="121.26" x2="382.60" y2="121.26" stroke="#000" stroke-width="1.2" />
<line x1="379.80" y1="127.33" x2="382.60" y2="127.33" stroke="#000" stroke-width="1.2" />
<line x1="379.80" y1="133.40" x2="382.60" y2="133.40" stroke="#000" stroke-width="1.2" />
<line x1="379.20" y1="24.10" x2="382.60" y2="24.10" stroke="#000" stroke-width="1.2" />
<line x1="379.20" y1="60.53" x2="382.60" y2="60.53" stroke="#000" stroke-width="1.2" />
<line x1="379.20" y1="96.97" x2="382.60" y2="96.97" stroke="#000" stroke-width="1.2" />
<line x1="379.20" y1="133.40" x2="382.60" y2="133.40" stroke="#000" stroke-width="1.2" />
<line x1="382.60" y1="133.40" x2="382.60" y2="136.00" stroke="#000" stroke-width="1.2" />
<line x1="394.16" y1="133.40" x2="394.16" y2="136.00" stroke="#000" stroke-width="1.2" />
<line x1="405.72" y1="133.40" x2="405.72" y2="136.00" stroke="#000" stroke-width="1.2" />
<line x1="417.28" y1="133.40" x2="417.28" y2="136.00" stroke="#000" stroke-width="1.2" />
<line x1="428.84" y1="133.40" x2="428.84" y2="136.00" stroke="#000" stroke-width="1.2" />
<line x1="440.40" y1="133.40" x2="440.40" y2="136.00" stroke="#000" stroke-width="1.2" />
<line x1="451.96" y1="133.40" x2="451.96" y2="136.00" stroke="#000" stroke-width="1.2" />
<line x1="463.52" y1="133.40" x2="463.52" y2="136.00" stroke="#000" stroke-width="1.2" />
<line x1="475.08" y1="133.40" x2="475.08" y2="136.00" stroke="#000" stroke-width="1.2" />
<line x1="486.64" y1="133.40" x2="486.64" y2="136.00" stroke="#000" stroke-width="1.2" />
<line x1="498.20" y1="133.40" x2="498.20" y2="136.00" stroke="#000" stroke-width="1.2" />
<text x="373.30" y="27.90" font-size="11" text-anchor="end" fill="#000" >0</text>
<text x="373.30" y="64.33" font-size="11" text-anchor="end" fill="#000" >-3</text>
<text x="373.30" y="100.77" font-size="11" text-anchor="end" fill="#000" >-6</text>
<text x="373.30" y="137.20" font-size="11" text-anchor="end" fill="#000" >-9</text>
<text x="382.60" y="150.80" font-size="11" text-anchor="middle" fill="#000" >0</text>
<text x="405.72" y="150.80" font-size="11" text-anchor="middle" fill="#000" >20</text>
<text x="428.84" y="150.80" font-size="11" text-anchor="middle" fill="#000" >40</text>
<text x="451.96" y="150.80" font-size="11" text-anchor="middle" fill="#000" >60</text>
<text x="475.08" y="150.80" font-size="11" text-anchor="middle" fill="#000" >80</text>
<text x="498.20" y="150.80" font-size="11" text-anchor="middle" fill="#000" >100</text>
<text x="440.60" y="165.10" font-size="11.6" text-anchor="middle" fill="#000" >NO (ppm)</text>
<text transform="translate(355.40,82.10) rotate(-90)" x="0" y="0" font-size="11.65" text-anchor="middle" fill="#000">Initial Rate of Response</text>
<line x1="391.00" y1="23.90" x2="477.00" y2="92.50" stroke="#6ab544" stroke-width="1.5" />
<line x1="406.20" y1="25.00" x2="406.20" y2="28.60" stroke="#222" stroke-width="1.2" />
<line x1="404.70" y1="25.00" x2="407.70" y2="25.00" stroke="#222" stroke-width="1.2" />
<line x1="404.70" y1="28.60" x2="407.70" y2="28.60" stroke="#222" stroke-width="1.2" />
<line x1="429.50" y1="43.60" x2="429.50" y2="53.90" stroke="#222" stroke-width="1.2" />
<line x1="427.30" y1="43.60" x2="431.70" y2="43.60" stroke="#222" stroke-width="1.2" />
<line x1="427.30" y1="53.90" x2="431.70" y2="53.90" stroke="#222" stroke-width="1.2" />
<line x1="475.60" y1="63.00" x2="475.60" y2="127.80" stroke="#222" stroke-width="1.1" />
<line x1="473.40" y1="63.00" x2="477.80" y2="63.00" stroke="#222" stroke-width="1.1" />
<line x1="473.40" y1="127.80" x2="477.80" y2="127.80" stroke="#222" stroke-width="1.1" />
<circle cx="384.60" cy="24.00" r="2.5" fill="#6ab544"/>
<circle cx="385.80" cy="24.30" r="2.4" fill="#6ab544"/>
<circle cx="388.60" cy="25.20" r="2.5" fill="#6ab544"/>
<circle cx="391.20" cy="25.40" r="2.3" fill="#6ab544"/>
<circle cx="394.60" cy="25.70" r="2.5" fill="#6ab544"/>
<circle cx="406.20" cy="26.80" r="2.6" fill="#6ab544"/>
<circle cx="429.50" cy="49.20" r="2.6" fill="#6ab544"/>
<circle cx="475.60" cy="95.00" r="2.5" fill="#6ab544"/>
<rect x="382.60" y="24.10" width="115.60" height="109.30" fill="none" stroke="#000" stroke-width="1.5"/>
<text x="373.50" y="179.00" font-size="10.5" text-anchor="middle" fill="#000" >F</text>
<rect x="382.80" y="195.30" width="117.10" height="111.80" fill="none" stroke="#000" stroke-width="1.5"/>
<line x1="380.00" y1="307.10" x2="382.80" y2="307.10" stroke="#000" stroke-width="1.2" />
<line x1="380.00" y1="300.11" x2="382.80" y2="300.11" stroke="#000" stroke-width="1.2" />
<line x1="380.00" y1="293.12" x2="382.80" y2="293.12" stroke="#000" stroke-width="1.2" />
<line x1="380.00" y1="286.14" x2="382.80" y2="286.14" stroke="#000" stroke-width="1.2" />
<line x1="380.00" y1="279.15" x2="382.80" y2="279.15" stroke="#000" stroke-width="1.2" />
<line x1="380.00" y1="272.16" x2="382.80" y2="272.16" stroke="#000" stroke-width="1.2" />
<line x1="380.00" y1="265.18" x2="382.80" y2="265.18" stroke="#000" stroke-width="1.2" />
<line x1="380.00" y1="258.19" x2="382.80" y2="258.19" stroke="#000" stroke-width="1.2" />
<line x1="380.00" y1="251.20" x2="382.80" y2="251.20" stroke="#000" stroke-width="1.2" />
<line x1="380.00" y1="244.21" x2="382.80" y2="244.21" stroke="#000" stroke-width="1.2" />
<line x1="380.00" y1="237.23" x2="382.80" y2="237.23" stroke="#000" stroke-width="1.2" />
<line x1="380.00" y1="230.24" x2="382.80" y2="230.24" stroke="#000" stroke-width="1.2" />
<line x1="380.00" y1="223.25" x2="382.80" y2="223.25" stroke="#000" stroke-width="1.2" />
<line x1="380.00" y1="216.26" x2="382.80" y2="216.26" stroke="#000" stroke-width="1.2" />
<line x1="380.00" y1="209.28" x2="382.80" y2="209.28" stroke="#000" stroke-width="1.2" />
<line x1="380.00" y1="202.29" x2="382.80" y2="202.29" stroke="#000" stroke-width="1.2" />
<line x1="380.00" y1="195.30" x2="382.80" y2="195.30" stroke="#000" stroke-width="1.2" />
<line x1="379.20" y1="307.10" x2="382.80" y2="307.10" stroke="#000" stroke-width="1.2" />
<line x1="379.20" y1="279.15" x2="382.80" y2="279.15" stroke="#000" stroke-width="1.2" />
<line x1="379.20" y1="251.20" x2="382.80" y2="251.20" stroke="#000" stroke-width="1.2" />
<line x1="379.20" y1="223.25" x2="382.80" y2="223.25" stroke="#000" stroke-width="1.2" />
<line x1="379.20" y1="195.30" x2="382.80" y2="195.30" stroke="#000" stroke-width="1.2" />
<line x1="382.80" y1="307.10" x2="382.80" y2="309.70" stroke="#000" stroke-width="1.2" />
<line x1="394.51" y1="307.10" x2="394.51" y2="309.70" stroke="#000" stroke-width="1.2" />
<line x1="406.22" y1="307.10" x2="406.22" y2="309.70" stroke="#000" stroke-width="1.2" />
<line x1="417.93" y1="307.10" x2="417.93" y2="309.70" stroke="#000" stroke-width="1.2" />
<line x1="429.64" y1="307.10" x2="429.64" y2="309.70" stroke="#000" stroke-width="1.2" />
<line x1="441.35" y1="307.10" x2="441.35" y2="309.70" stroke="#000" stroke-width="1.2" />
<line x1="453.06" y1="307.10" x2="453.06" y2="309.70" stroke="#000" stroke-width="1.2" />
<line x1="464.77" y1="307.10" x2="464.77" y2="309.70" stroke="#000" stroke-width="1.2" />
<line x1="476.48" y1="307.10" x2="476.48" y2="309.70" stroke="#000" stroke-width="1.2" />
<line x1="488.19" y1="307.10" x2="488.19" y2="309.70" stroke="#000" stroke-width="1.2" />
<line x1="499.90" y1="307.10" x2="499.90" y2="309.70" stroke="#000" stroke-width="1.2" />
<text x="372.20" y="310.90" font-size="11" text-anchor="end" fill="#000" >0</text>
<text x="372.20" y="282.95" font-size="11" text-anchor="end" fill="#000" >4</text>
<text x="372.20" y="255.00" font-size="11" text-anchor="end" fill="#000" >8</text>
<text x="372.20" y="227.05" font-size="11" text-anchor="end" fill="#000" >12</text>
<text x="372.20" y="199.10" font-size="11" text-anchor="end" fill="#000" >16</text>
<text x="382.80" y="324.60" font-size="11" text-anchor="middle" fill="#000" >0</text>
<text x="406.22" y="324.60" font-size="11" text-anchor="middle" fill="#000" >20</text>
<text x="429.64" y="324.60" font-size="11" text-anchor="middle" fill="#000" >40</text>
<text x="453.06" y="324.60" font-size="11" text-anchor="middle" fill="#000" >60</text>
<text x="476.48" y="324.60" font-size="11" text-anchor="middle" fill="#000" >80</text>
<text x="499.90" y="324.60" font-size="11" text-anchor="middle" fill="#000" >100</text>
<text x="447.5" y="336.5" font-size="11.4" text-anchor="middle" fill="#000">H<tspan font-size="8" dy="2">2</tspan><tspan dy="-2">S (ppm)</tspan></text>
<text transform="translate(355.40,253.60) rotate(-90)" x="0" y="0" font-size="11.65" text-anchor="middle" fill="#000">Initial Rate of Response</text>
<line x1="382.60" y1="305.40" x2="477.60" y2="212.00" stroke="#ffc000" stroke-width="1.6" />
<line x1="394.51" y1="293.50" x2="394.51" y2="299.40" stroke="#222" stroke-width="1.2" />
<line x1="392.01" y1="293.50" x2="397.01" y2="293.50" stroke="#222" stroke-width="1.2" />
<line x1="392.01" y1="299.40" x2="397.01" y2="299.40" stroke="#222" stroke-width="1.2" />
<line x1="406.22" y1="269.30" x2="406.22" y2="285.00" stroke="#222" stroke-width="1.2" />
<line x1="404.02" y1="269.30" x2="408.42" y2="269.30" stroke="#222" stroke-width="1.2" />
<line x1="404.02" y1="285.00" x2="408.42" y2="285.00" stroke="#222" stroke-width="1.2" />
<line x1="429.64" y1="243.50" x2="429.64" y2="262.40" stroke="#222" stroke-width="1.2" />
<line x1="427.44" y1="243.50" x2="431.84" y2="243.50" stroke="#222" stroke-width="1.2" />
<line x1="427.44" y1="262.40" x2="431.84" y2="262.40" stroke="#222" stroke-width="1.2" />
<line x1="477.40" y1="206.20" x2="477.40" y2="225.80" stroke="#222" stroke-width="1.2" />
<line x1="475.20" y1="206.20" x2="479.60" y2="206.20" stroke="#222" stroke-width="1.2" />
<line x1="475.20" y1="225.80" x2="479.60" y2="225.80" stroke="#222" stroke-width="1.2" />
<circle cx="383.30" cy="305.80" r="2.5" fill="#ffc000"/>
<circle cx="384.50" cy="304.60" r="2.5" fill="#ffc000"/>
<circle cx="385.60" cy="303.20" r="2.5" fill="#ffc000"/>
<circle cx="387.90" cy="300.00" r="2.5" fill="#ffc000"/>
<circle cx="394.30" cy="295.90" r="2.5" fill="#ffc000"/>
<circle cx="406.20" cy="277.60" r="2.5" fill="#ffc000"/>
<circle cx="429.40" cy="252.60" r="2.5" fill="#ffc000"/>
<circle cx="477.40" cy="216.00" r="2.5" fill="#ffc000"/>
<text x="545.20" y="13.00" font-size="10.5" text-anchor="middle" fill="#000" >G</text>
<text x="621.40" y="17.80" font-size="11.6" text-anchor="middle" fill="#000" >40 ppm NO</text>
<rect x="577.7" y="24.1" width="34.4" height="20.30" fill="#3b5925" stroke="#111" stroke-width="1"/>
<rect x="646.2" y="24.1" width="33.5" height="71.20" fill="#3b5925" stroke="#111" stroke-width="1"/>
<rect x="592.8" y="41.8" width="4.4" height="4.6" fill="#111"/>
<line x1="663.00" y1="69.50" x2="663.00" y2="120.70" stroke="#111" stroke-width="1.7" />
<line x1="660.60" y1="69.50" x2="665.50" y2="69.50" stroke="#111" stroke-width="1.7" />
<line x1="660.60" y1="120.70" x2="665.50" y2="120.70" stroke="#111" stroke-width="1.7" />
<line x1="688.80" y1="25.00" x2="688.80" y2="135.00" stroke="#ececec" stroke-width="1" />
<rect x="560.40" y="24.10" width="136.60" height="111.80" fill="none" stroke="#000" stroke-width="1.4"/>
<line x1="557.60" y1="24.10" x2="560.40" y2="24.10" stroke="#000" stroke-width="1.2" />
<line x1="557.60" y1="31.55" x2="560.40" y2="31.55" stroke="#000" stroke-width="1.2" />
<line x1="557.60" y1="39.01" x2="560.40" y2="39.01" stroke="#000" stroke-width="1.2" />
<line x1="557.60" y1="46.46" x2="560.40" y2="46.46" stroke="#000" stroke-width="1.2" />
<line x1="557.60" y1="53.91" x2="560.40" y2="53.91" stroke="#000" stroke-width="1.2" />
<line x1="557.60" y1="61.37" x2="560.40" y2="61.37" stroke="#000" stroke-width="1.2" />
<line x1="557.60" y1="68.82" x2="560.40" y2="68.82" stroke="#000" stroke-width="1.2" />
<line x1="557.60" y1="76.27" x2="560.40" y2="76.27" stroke="#000" stroke-width="1.2" />
<line x1="557.60" y1="83.73" x2="560.40" y2="83.73" stroke="#000" stroke-width="1.2" />
<line x1="557.60" y1="91.18" x2="560.40" y2="91.18" stroke="#000" stroke-width="1.2" />
<line x1="557.60" y1="98.63" x2="560.40" y2="98.63" stroke="#000" stroke-width="1.2" />
<line x1="557.60" y1="106.09" x2="560.40" y2="106.09" stroke="#000" stroke-width="1.2" />
<line x1="557.60" y1="113.54" x2="560.40" y2="113.54" stroke="#000" stroke-width="1.2" />
<line x1="557.60" y1="120.99" x2="560.40" y2="120.99" stroke="#000" stroke-width="1.2" />
<line x1="557.60" y1="128.45" x2="560.40" y2="128.45" stroke="#000" stroke-width="1.2" />
<line x1="557.60" y1="135.90" x2="560.40" y2="135.90" stroke="#000" stroke-width="1.2" />
<line x1="557.00" y1="24.10" x2="560.40" y2="24.10" stroke="#000" stroke-width="1.2" />
<line x1="557.00" y1="46.46" x2="560.40" y2="46.46" stroke="#000" stroke-width="1.2" />
<line x1="557.00" y1="68.82" x2="560.40" y2="68.82" stroke="#000" stroke-width="1.2" />
<line x1="557.00" y1="91.18" x2="560.40" y2="91.18" stroke="#000" stroke-width="1.2" />
<line x1="557.00" y1="113.54" x2="560.40" y2="113.54" stroke="#000" stroke-width="1.2" />
<line x1="557.00" y1="135.90" x2="560.40" y2="135.90" stroke="#000" stroke-width="1.2" />
<text x="550.00" y="27.90" font-size="11" text-anchor="end" fill="#000" >0</text>
<text x="550.00" y="50.26" font-size="11" text-anchor="end" fill="#000" >-60</text>
<text x="550.00" y="72.62" font-size="11" text-anchor="end" fill="#000" >-120</text>
<text x="550.00" y="94.98" font-size="11" text-anchor="end" fill="#000" >-180</text>
<text x="550.00" y="117.34" font-size="11" text-anchor="end" fill="#000" >-240</text>
<text x="550.00" y="139.70" font-size="11" text-anchor="end" fill="#000" >-300</text>
<text transform="translate(521.90,82.00) rotate(-90)" x="0" y="0" font-size="11.7" text-anchor="middle" fill="#000">-ΔG/G<tspan font-size="8" dy="2">0</tspan><tspan dy="-2"> (%)</tspan></text>
<path d="M663.50,35.40 C664.50,40.40 674.20,46.40 674.20,55.40 A10.7,10.7 0 1 1 652.80,55.40 C652.80,46.40 662.50,40.40 663.50,35.40 Z" fill="#1ca9ef" stroke="#1a4f7a" stroke-width="0.9"/>
<ellipse cx="666.30" cy="51.10" rx="2.7" ry="4.5" fill="#fff"/>
<text x="545.00" y="178.80" font-size="10.5" text-anchor="middle" fill="#000" >H</text>
<text x="622.0" y="186.3" font-size="11.55" text-anchor="middle" fill="#000">40 ppm H<tspan font-size="8" dy="2">2</tspan><tspan dy="-2">S</tspan></text>
<rect x="576.5" y="242.4" width="34.6" height="66.10" fill="#ffc000" stroke="#111" stroke-width="1"/>
<rect x="646.7" y="216.4" width="34.6" height="92.10" fill="#ffc000" stroke="#111" stroke-width="1"/>
<line x1="593.80" y1="228.30" x2="593.80" y2="256.20" stroke="#111" stroke-width="1.7" />
<line x1="591.80" y1="228.30" x2="596.00" y2="228.30" stroke="#111" stroke-width="1.7" />
<line x1="591.80" y1="256.20" x2="596.00" y2="256.20" stroke="#111" stroke-width="1.7" />
<rect x="662" y="214.8" width="4.5" height="3" fill="#111"/>
<line x1="690.80" y1="197.00" x2="690.80" y2="307.50" stroke="#ececec" stroke-width="1" />
<rect x="558.60" y="195.60" width="140.20" height="112.90" fill="none" stroke="#000" stroke-width="1.4"/>
<line x1="555.80" y1="308.50" x2="558.60" y2="308.50" stroke="#000" stroke-width="1.2" />
<line x1="555.80" y1="300.97" x2="558.60" y2="300.97" stroke="#000" stroke-width="1.2" />
<line x1="555.80" y1="293.45" x2="558.60" y2="293.45" stroke="#000" stroke-width="1.2" />
<line x1="555.80" y1="285.92" x2="558.60" y2="285.92" stroke="#000" stroke-width="1.2" />
<line x1="555.80" y1="278.39" x2="558.60" y2="278.39" stroke="#000" stroke-width="1.2" />
<line x1="555.80" y1="270.87" x2="558.60" y2="270.87" stroke="#000" stroke-width="1.2" />
<line x1="555.80" y1="263.34" x2="558.60" y2="263.34" stroke="#000" stroke-width="1.2" />
<line x1="555.80" y1="255.81" x2="558.60" y2="255.81" stroke="#000" stroke-width="1.2" />
<line x1="555.80" y1="248.29" x2="558.60" y2="248.29" stroke="#000" stroke-width="1.2" />
<line x1="555.80" y1="240.76" x2="558.60" y2="240.76" stroke="#000" stroke-width="1.2" />
<line x1="555.80" y1="233.23" x2="558.60" y2="233.23" stroke="#000" stroke-width="1.2" />
<line x1="555.80" y1="225.71" x2="558.60" y2="225.71" stroke="#000" stroke-width="1.2" />
<line x1="555.80" y1="218.18" x2="558.60" y2="218.18" stroke="#000" stroke-width="1.2" />
<line x1="555.80" y1="210.65" x2="558.60" y2="210.65" stroke="#000" stroke-width="1.2" />
<line x1="555.80" y1="203.13" x2="558.60" y2="203.13" stroke="#000" stroke-width="1.2" />
<line x1="555.80" y1="195.60" x2="558.60" y2="195.60" stroke="#000" stroke-width="1.2" />
<line x1="555.20" y1="308.50" x2="558.60" y2="308.50" stroke="#000" stroke-width="1.2" />
<line x1="555.20" y1="270.87" x2="558.60" y2="270.87" stroke="#000" stroke-width="1.2" />
<line x1="555.20" y1="233.23" x2="558.60" y2="233.23" stroke="#000" stroke-width="1.2" />
<line x1="555.20" y1="195.60" x2="558.60" y2="195.60" stroke="#000" stroke-width="1.2" />
<text x="548.00" y="312.30" font-size="11" text-anchor="end" fill="#000" >0</text>
<text x="548.00" y="274.67" font-size="11" text-anchor="end" fill="#000" >40</text>
<text x="548.00" y="237.03" font-size="11" text-anchor="end" fill="#000" >80</text>
<text x="548.00" y="199.40" font-size="11" text-anchor="end" fill="#000" >120</text>
<text transform="translate(521.90,252.50) rotate(-90)" x="0" y="0" font-size="11.7" text-anchor="middle" fill="#000">-ΔG/G<tspan font-size="8" dy="2">0</tspan><tspan dy="-2"> (%)</tspan></text>
<path d="M663.30,241.00 C664.30,246.00 674.10,252.00 674.10,261.00 A10.8,10.8 0 1 1 652.50,261.00 C652.50,252.00 662.30,246.00 663.30,241.00 Z" fill="#1ca9ef" stroke="#1a4f7a" stroke-width="0.9"/>
<ellipse cx="666.60" cy="256.50" rx="2.7" ry="4.2" fill="#fff"/>
</svg></body></html>
